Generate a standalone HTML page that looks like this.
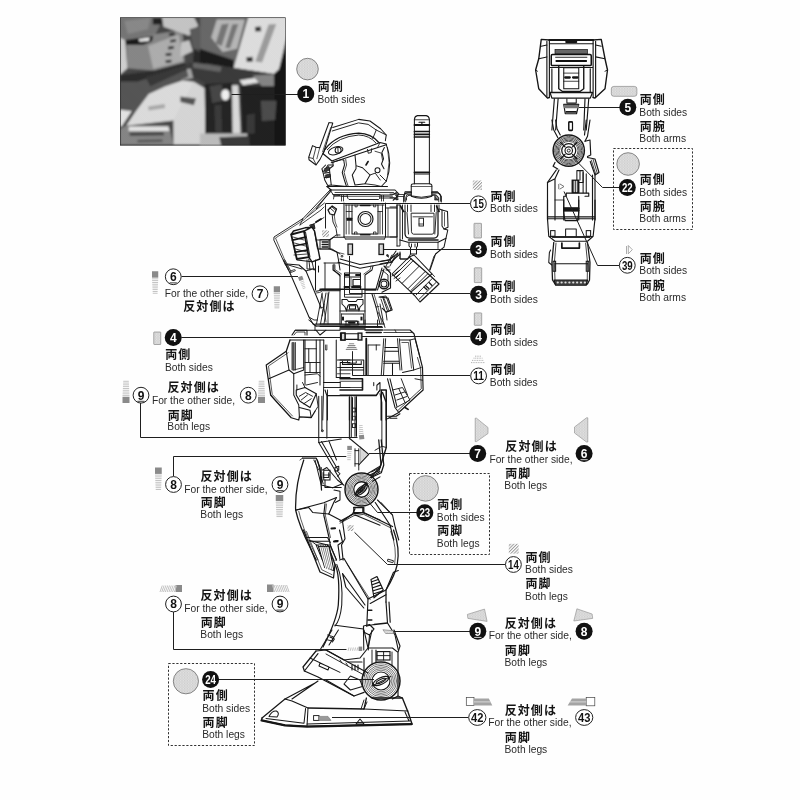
<!DOCTYPE html>
<html><head><meta charset="utf-8"><title>Decal guide</title>
<style>
html,body{margin:0;padding:0;background:#fefefe;}
body{width:800px;height:800px;overflow:hidden;font-family:"Liberation Sans",sans-serif;}
svg{display:block;will-change:transform;font-family:"Liberation Sans",sans-serif;}
.jp{font-family:"Liberation Sans","Noto Sans CJK JP",sans-serif;font-size:12px;font-weight:700;fill:#141414;letter-spacing:1.1px;}
</style></head><body>
<svg width="800" height="800" viewBox="0 0 800 800">
<defs>
<pattern id="dots" width="1.6" height="1.6" patternUnits="userSpaceOnUse"><rect width="1.6" height="1.6" fill="#e8e8e8"/><circle cx=".5" cy=".5" r=".4" fill="#bebebe"/><circle cx="1.3" cy="1.3" r=".4" fill="#bebebe"/></pattern>
<pattern id="hatch" width="2.3" height="2.3" patternUnits="userSpaceOnUse" patternTransform="rotate(-45)"><rect width="2.3" height="2.3" fill="#fff"/><rect width="2.3" height="1" fill="#9a9a9a"/></pattern>
<filter id="pblur" x="-5%" y="-5%" width="110%" height="110%"><feGaussianBlur stdDeviation="1.1"/></filter>
<pattern id="ht" width="1.5" height="1.5" patternUnits="userSpaceOnUse" patternTransform="rotate(45)"><circle cx=".75" cy=".75" r=".42" fill="#000"/></pattern>

</defs>
<rect width="800" height="800" fill="#fefefe"/>
<clipPath id="pc"><rect x="120" y="17.4" width="165.6" height="128"/></clipPath>
<g clip-path="url(#pc)"><g filter="url(#pblur)">
<rect x="110" y="8" width="190" height="150" fill="#4a4a4a"/>
<polygon points="117.12,15.0 164.62,15.0 155.12,35.19 124.25,41.12 117.12,38.75" fill="#7a7a7a"/>
<polygon points="124.25,20.94 150.38,17.85 148.0,29.25 127.81,34.0" fill="#8e8e8e"/>
<polygon points="152.75,17.85 161.78,17.85 161.78,24.5 152.75,24.5" fill="#222"/>
<polygon points="126.15,40.17 153.22,34.48 182.44,29.96 184.81,62.5 154.41,70.58 127.34,68.2" fill="#8c8c8c"/>
<polygon points="148.0,45.88 178.88,34.48 183.15,61.31 153.22,68.68" fill="#b4b4b4"/>
<polygon points="124.01,40.17 153.22,35.66 152.04,41.36 143.01,44.92 126.15,44.92" fill="#1e1e1e"/>
<polygon points="138.5,38.99 149.9,37.33 148.71,41.12 139.69,41.84" fill="#f2f2f2"/>
<polygon points="119.97,37.8 125.2,40.17 127.34,68.2 119.97,74.85" fill="#d8d8d8"/>
<polygon points="168.9,33.29 174.6,32.58 174.84,35.19 169.14,35.9" fill="#2a2a2a"/>
<polygon points="170.09,39.94 175.79,39.23 176.03,41.84 170.32,42.55" fill="#2a2a2a"/>
<polygon points="167.95,46.83 173.65,46.11 173.89,48.73 168.19,49.44" fill="#2a2a2a"/>
<polygon points="165.57,53.48 171.28,52.76 171.51,55.38 165.81,56.09" fill="#2a2a2a"/>
<polygon points="165.57,60.36 171.28,59.65 171.51,62.26 165.81,62.98" fill="#2a2a2a"/>
<polygon points="162.25,16.9 193.84,16.9 198.11,25.45 189.32,35.66 163.44,26.64" fill="#cccccc"/>
<polygon points="181.25,42.31 189.32,40.17 192.65,51.34 180.3,57.04" fill="#cccccc"/>
<polygon points="189.56,29.25 205.0,24.5 205.0,50.62 193.12,48.25" fill="#5e5e5e"/>
<polygon points="193.84,49.2 205.0,54.66 205.0,66.06 192.65,64.88" fill="#2c2c2c"/>
<polygon points="200.25,16.9 248.94,16.9 234.69,67.25 200.25,48.25" fill="#6c6c6c"/>
<polygon points="216.88,19.51 244.9,19.51 237.06,48.73 222.57,52.05 211.18,37.56" fill="#bdbdbd"/>
<polygon points="221.62,24.5 228.75,23.55 221.62,45.88 215.69,43.5" fill="#7a7a7a"/>
<polygon points="232.31,24.5 238.25,24.02 229.94,48.25 225.19,47.77" fill="#7a7a7a"/>
<polygon points="200.01,48.73 233.74,59.89 233.74,67.96 200.01,62.26" fill="#1c1c1c"/>
<polygon points="248.46,16.9 288.12,16.9 288.12,31.62 279.1,69.15 273.88,73.9 233.74,67.72" fill="#e6e6e6"/>
<polygon points="254.88,26.88 260.81,26.4 261.29,31.15 255.35,31.62" fill="#333"/>
<polygon points="246.33,57.28 252.5,56.8 252.97,61.55 246.8,62.03" fill="#333"/>
<polygon points="268.65,24.5 276.25,24.02 262.0,62.5 255.35,61.55" fill="#a2a2a2"/>
<polygon points="279.1,69.15 288.12,31.62 288.12,148.0 273.88,148.0 273.88,73.9" fill="#151515"/>
<polygon points="188.38,62.5 233.74,67.96 273.88,73.9 273.88,86.25 216.88,88.62 188.38,75.56" fill="#3c3c3c"/>
<polygon points="178.88,70.81 190.75,68.44 193.12,77.94 181.25,80.31" fill="#aaaaaa"/>
<polygon points="193.12,62.5 221.62,66.78 220.44,72.0 193.12,67.72" fill="#6a6a6a"/>
<polygon points="239.44,80.31 259.62,77.22 262.0,81.98 243.0,85.3" fill="#ececec"/>
<polygon points="252.5,75.56 273.88,74.38 273.88,86.25 262.0,86.25" fill="#8a8a8a"/>
<polygon points="119.97,75.09 154.41,70.58 184.81,62.5 186.95,70.58 157.74,75.09 137.55,81.74 119.97,81.74" fill="#2e2e2e"/>
<polygon points="119.97,81.74 137.55,81.74 157.74,75.09 186.95,70.58 188.38,76.75 165.57,86.25 148.71,94.09 135.18,112.14 119.97,109.76" fill="#585858"/>
<polygon points="145.62,77.22 188.38,63.69 185.53,70.1 150.38,86.25" fill="#3a3a3a"/>
<polygon points="119.97,109.76 131.85,110.95 121.64,126.62 119.97,126.62" fill="#ececec"/>
<polygon points="135.18,112.14 148.71,94.09 165.57,86.25 182.44,80.55 193.84,81.74 186.95,103.11 177.93,119.98 126.15,125.68" fill="#e4e4e4"/>
<polygon points="173.41,119.98 193.84,81.74 205.0,88.39 205.0,144.68 173.41,144.68" fill="#dedede"/>
<polygon points="180.3,96.46 195.98,98.6 193.84,105.25 180.3,101.93" fill="#585858"/>
<polygon points="126.15,125.68 168.9,125.68 173.41,144.68 119.97,144.68 119.97,129.0" fill="#8a8a8a"/>
<polygon points="129.0,126.62 168.19,126.62 169.38,130.9 128.53,130.9" fill="#ececec"/>
<polygon points="129.47,132.8 163.44,132.32 164.15,135.18 129.95,135.65" fill="#444"/>
<polygon points="137.31,139.93 162.25,139.45 162.72,141.82 137.55,142.3" fill="#555"/>
<polygon points="148.0,106.44 164.62,104.06 165.1,108.1 148.71,110.48" fill="#b0b0b0"/>
<polygon points="204.53,83.88 232.55,82.69 232.55,133.51 205.48,133.51" fill="#262626"/>
<polygon points="209.75,86.25 221.62,84.35 224.48,100.5 212.12,102.88" fill="#4a4a4a"/>
<ellipse cx="225.43" cy="94.8" rx="4.2" ry="5.6" fill="#fafafa"/>
<polygon points="232.07,85.3 238.25,85.3 240.62,133.51 232.55,133.51" fill="#e2e2e2"/>
<polygon points="214.5,105.25 221.15,104.78 222.1,132.56 215.45,132.56" fill="#3c3c3c"/>
<polygon points="240.39,86.25 273.88,86.25 273.88,148.0 243.0,148.0" fill="#222"/>
<polygon points="260.81,100.74 276.49,100.74 275.06,119.98 262.0,120.93" fill="#505050"/>
<polygon points="246.56,114.75 254.88,113.56 254.88,133.75 246.56,133.75" fill="#3a3a3a"/>
<polygon points="200.01,133.51 247.28,133.51 248.22,148.0 200.01,148.0" fill="#c4c4c4"/>
<polygon points="219.25,137.31 248.94,136.12 250.12,148.0 221.62,148.0" fill="#3c3c3c"/>
</g>
<rect x="120" y="17.4" width="165.6" height="128" fill="url(#ht)" opacity="0.2"/>
</g>
<rect x="120.3" y="17.7" width="165" height="127.4" fill="none" stroke="#2a2a2a" stroke-width="0.6"/>
<path d="M329.0 122.5L332.75 123.0L324.0 151.25L320.0 159.38L316.0 165.0L309.0 159.75L308.75 157.25L312.5 145.62L316.0 147.25L319.75 147.75L329.0 122.5" fill="none" stroke="#161616" stroke-width="1.03" stroke-linejoin="round" stroke-linecap="round"/>
<path d="M330.75 127.5L322.5 151.88" fill="none" stroke="#161616" stroke-width="0.69" stroke-linejoin="round" stroke-linecap="round"/>
<path d="M316.0 147.25L313.12 158.5L309.0 157.5" fill="none" stroke="#161616" stroke-width="0.8" stroke-linejoin="round" stroke-linecap="round"/>
<path d="M313.12 158.5L316.25 164.75" fill="none" stroke="#161616" stroke-width="0.8" stroke-linejoin="round" stroke-linecap="round"/>
<path d="M319.75 147.75L316.88 158.75" fill="none" stroke="#161616" stroke-width="0.69" stroke-linejoin="round" stroke-linecap="round"/>
<path d="M332.75 127.5L358.75 119.38L370.0 121.0L380.62 128.75L386.25 135.0L385.38 140.62" fill="none" stroke="#161616" stroke-width="1.03" stroke-linejoin="round" stroke-linecap="round"/>
<path d="M332.25 131.0L358.5 122.88L368.12 124.38L376.25 130.0L386.25 135.0" fill="none" stroke="#161616" stroke-width="0.92" stroke-linejoin="round" stroke-linecap="round"/>
<path d="M376.25 130.0L372.75 138.5" fill="none" stroke="#161616" stroke-width="0.92" stroke-linejoin="round" stroke-linecap="round"/>
<path d="M 325.0 149.25 Q 336.25 134.38 358.75 133.12 Q 371.25 133.5 378.5 142.25" fill="none" stroke="#161616" stroke-width="1.26" stroke-linejoin="round" stroke-linecap="round"/>
<path d="M 327.25 149.75 Q 338.12 136.5 358.75 135.0 Q 369.38 135.38 375.75 142.75" fill="none" stroke="#161616" stroke-width="0.92" stroke-linejoin="round" stroke-linecap="round"/>
<path d="M323.12 153.75L331.88 161.0L380.0 142.5L386.25 144.0" fill="none" stroke="#161616" stroke-width="1.26" stroke-linejoin="round" stroke-linecap="round"/>
<path d="M331.25 162.75L386.25 144.75" fill="none" stroke="#161616" stroke-width="1.03" stroke-linejoin="round" stroke-linecap="round"/>
<path d="M325.0 149.25L323.12 153.75" fill="none" stroke="#161616" stroke-width="1.03" stroke-linejoin="round" stroke-linecap="round"/>
<ellipse cx="335.62" cy="150.75" rx="7.5" ry="3.75" transform="rotate(-17 335.62 150.75)" fill="none" stroke="#161616" stroke-width="1.03"/>
<circle cx="338.12" cy="150.25" r="3.0" fill="none" stroke="#161616" stroke-width="1.03"/>
<path d="M337.88 148.12L338.12 152.5" fill="none" stroke="#161616" stroke-width="0.92" stroke-linejoin="round" stroke-linecap="round"/>
<path d="M 386.25 144.38 Q 393.12 162.5 386.25 181.25 L 381.25 186.5" fill="none" stroke="#161616" stroke-width="1.03" stroke-linejoin="round" stroke-linecap="round"/>
<path d="M384.38 147.5L381.88 152.5L383.5 158.75L381.5 164.0L384.0 168.75" fill="none" stroke="#161616" stroke-width="1.03" stroke-linejoin="round" stroke-linecap="round"/>
<circle cx="377.5" cy="170.25" r="2.5" fill="none" stroke="#161616" stroke-width="1.03"/>
<path d="M380.0 175.0L386.25 181.25" fill="none" stroke="#161616" stroke-width="0.92" stroke-linejoin="round" stroke-linecap="round"/>
<path d="M332.75 162.25L333.25 165.75L329.38 168.75L331.25 185.0L346.5 186.5" fill="none" stroke="#161616" stroke-width="1.03" stroke-linejoin="round" stroke-linecap="round"/>
<path d="M329.38 168.75L322.75 171.5L324.75 180.0L327.75 185.5L331.25 185.0" fill="none" stroke="#161616" stroke-width="1.03" stroke-linejoin="round" stroke-linecap="round"/>
<path d="M323.75 173.12L329.38 172.5M324.5 177.5L330.0 176.88M325.62 168.75L328.12 165.0L332.75 165.0" fill="none" stroke="#161616" stroke-width="1.03" stroke-linejoin="round" stroke-linecap="round"/>
<path d="M343.75 160.0L344.5 165.0L342.25 172.5L344.38 180.0L346.5 186.5" fill="none" stroke="#161616" stroke-width="1.03" stroke-linejoin="round" stroke-linecap="round"/>
<path d="M345.75 159.5L346.5 165.0L344.12 172.5L346.12 180.0L348.25 186.5" fill="none" stroke="#161616" stroke-width="0.8" stroke-linejoin="round" stroke-linecap="round"/>
<path d="M355.0 155.0L356.0 165.62L362.5 167.75L370.0 175.0L365.0 183.75L355.0 185.0L352.25 175.0L356.0 168.75L356.0 165.62" fill="none" stroke="#161616" stroke-width="1.03" stroke-linejoin="round" stroke-linecap="round"/>
<path d="M370.0 175.0L375.25 173.12L380.25 180.0" fill="none" stroke="#161616" stroke-width="0.92" stroke-linejoin="round" stroke-linecap="round"/>
<path d="M365.0 183.75L375.0 185.0L381.25 186.5" fill="none" stroke="#161616" stroke-width="0.92" stroke-linejoin="round" stroke-linecap="round"/>
<path d="M366.0 165.0L368.12 161.5" fill="none" stroke="#161616" stroke-width="1.61" stroke-linejoin="round" stroke-linecap="round"/>
<path d="M367.5 149.38L368.25 153.25L371.25 152.5L371.62 148.75" fill="none" stroke="#161616" stroke-width="0.92" stroke-linejoin="round" stroke-linecap="round"/>
<path d="M326.88 186.5L387.5 186.5" fill="none" stroke="#161616" stroke-width="1.03" stroke-linejoin="round" stroke-linecap="round"/>
<path d="M326.88 186.5L331.25 190.0L395.0 190.0L399.0 194.0L396.25 197.5L393.12 200.25" fill="none" stroke="#161616" stroke-width="1.03" stroke-linejoin="round" stroke-linecap="round"/>
<path d="M331.25 190.0L316.25 208.75" fill="none" stroke="#161616" stroke-width="1.03" stroke-linejoin="round" stroke-linecap="round"/>
<path d="M335.0 192.5L393.75 192.5L396.25 196.25" fill="none" stroke="#161616" stroke-width="0.8" stroke-linejoin="round" stroke-linecap="round"/>
<path d="M341.25 196.25L392.5 196.25" fill="none" stroke="#161616" stroke-width="0.8" stroke-linejoin="round" stroke-linecap="round"/>
<path d="M324.5 168.75L329.0 166.5L329.75 169.75L325.38 172.0Z" fill="#3a3a3a" stroke="#161616" stroke-width="0.8" stroke-linejoin="round" stroke-linecap="round"/>
<path d="M325.62 175.0L330.0 174.0L330.5 176.5L326.25 178.0Z" fill="#3a3a3a" stroke="#161616" stroke-width="0.8" stroke-linejoin="round" stroke-linecap="round"/>
<path d="M332.75 162.25L341.25 159.75L343.75 160.0" fill="none" stroke="#161616" stroke-width="0.92" stroke-linejoin="round" stroke-linecap="round"/>
<path d="M325.62 165.0L321.88 168.75L322.75 171.5" fill="none" stroke="#161616" stroke-width="1.03" stroke-linejoin="round" stroke-linecap="round"/>
<path d="M377.5 147.5L380.0 142.75M375.0 151.25L381.25 153.12L382.5 160.0" fill="none" stroke="#161616" stroke-width="0.8" stroke-linejoin="round" stroke-linecap="round"/>
<path d="M387.5 147.5L389.0 162.5L387.5 175.0" fill="none" stroke="#161616" stroke-width="0.69" stroke-linejoin="round" stroke-linecap="round"/>
<path d="M 414.38 183.75 L 414.38 119.38 Q 414.75 116.0 417.5 115.62 L 426.25 115.62 Q 429.0 116.0 429.38 119.38 L 429.38 183.75" fill="none" stroke="#161616" stroke-width="1.03" stroke-linejoin="round" stroke-linecap="round"/>
<path d="M414.38 119.75L429.38 119.75" fill="none" stroke="#161616" stroke-width="0.8" stroke-linejoin="round" stroke-linecap="round"/>
<path d="M414.5 125.0L429.25 125.0" fill="none" stroke="#161616" stroke-width="1.84" stroke-linejoin="round" stroke-linecap="round"/>
<path d="M419.0 122.25L424.75 122.25M421.88 122.25L421.88 124.5" fill="none" stroke="#161616" stroke-width="1.15" stroke-linejoin="round" stroke-linecap="round"/>
<path d="M414.5 131.5L429.25 131.5" fill="none" stroke="#161616" stroke-width="1.72" stroke-linejoin="round" stroke-linecap="round"/>
<path d="M414.5 134.38L429.25 134.38" fill="none" stroke="#161616" stroke-width="1.72" stroke-linejoin="round" stroke-linecap="round"/>
<path d="M414.5 137.0L429.25 137.0" fill="none" stroke="#161616" stroke-width="1.72" stroke-linejoin="round" stroke-linecap="round"/>
<path d="M414.5 172.5L429.25 172.5" fill="none" stroke="#161616" stroke-width="1.84" stroke-linejoin="round" stroke-linecap="round"/>
<path d="M414.5 174.25L429.25 174.25" fill="none" stroke="#161616" stroke-width="0.69" stroke-linejoin="round" stroke-linecap="round"/>
<path d="M 411.25 185.25 Q 411.25 183.75 414.38 183.75 L 429.38 183.75 Q 431.88 184.0 431.88 185.62 L 431.88 196.25 Q 421.25 200.25 411.25 196.25 Z" fill="none" stroke="#161616" stroke-width="1.03" stroke-linejoin="round" stroke-linecap="round"/>
<path d="M411.25 186.5L431.88 186.5" fill="none" stroke="#161616" stroke-width="0.69" stroke-linejoin="round" stroke-linecap="round"/>
<path d="M411.25 191.88L405.0 191.88L403.75 197.5L403.75 201.88M431.88 191.88L437.5 191.88L441.25 196.25L441.25 201.88" fill="none" stroke="#161616" stroke-width="1.03" stroke-linejoin="round" stroke-linecap="round"/>
<path d="M411.25 194.38L406.88 194.38L405.62 198.12L405.62 201.88M431.88 194.38L435.62 194.38L438.75 197.5L438.75 201.88" fill="none" stroke="#161616" stroke-width="0.8" stroke-linejoin="round" stroke-linecap="round"/>
<path d="M435.0 196.25L438.12 200.0L435.0 200.0Z" fill="#444" stroke="#161616" stroke-width="0.69" stroke-linejoin="round" stroke-linecap="round"/>
<path d="M330.0 190.0L303.0 218.5L274.0 237.0L273.8 240.0L285.0 264.0L288.5 270.0" fill="none" stroke="#161616" stroke-width="0.92" stroke-linejoin="round" stroke-linecap="round"/>
<path d="M331.2 191.2L304.2 219.7L275.5 238.0L286.2 263.5L289.5 270.0" fill="none" stroke="#161616" stroke-width="0.69" stroke-linejoin="round" stroke-linecap="round"/>
<path d="M307.0 217.0L324.5 203.0" fill="none" stroke="#161616" stroke-width="0.8" stroke-linejoin="round" stroke-linecap="round"/>
<path d="M300.0 225.0L321.0 210.0L324.0 207.0" fill="none" stroke="#161616" stroke-width="0.8" stroke-linejoin="round" stroke-linecap="round"/>
<path d="M303.0 218.5L300.0 225.0" fill="none" stroke="#161616" stroke-width="0.8" stroke-linejoin="round" stroke-linecap="round"/>
<path d="M312.0 225.0L324.0 217.5" fill="none" stroke="#161616" stroke-width="0.8" stroke-linejoin="round" stroke-linecap="round"/>
<path d="M316.0 222.0L321.0 219.0" fill="none" stroke="#161616" stroke-width="1.84" stroke-linejoin="round" stroke-linecap="round"/>
<path d="M310.0 225.0L314.0 224.0L315.0 228.5L312.0 228.0Z" fill="#333" stroke="#161616" stroke-width="0.92" stroke-linejoin="round" stroke-linecap="round"/>
<path d="M291.2 234.5L304.0 231.2L308.8 257.2L296.8 259.0Z" fill="none" stroke="#161616" stroke-width="1.84" stroke-linejoin="round" stroke-linecap="round"/>
<path d="M291.2 234.5L293.5 231.0L305.0 227.8L312.0 227.2L304.0 231.2" fill="none" stroke="#161616" stroke-width="1.38" stroke-linejoin="round" stroke-linecap="round"/>
<path d="M312.0 227.2L314.5 231.0L320.0 259.0L312.0 261.8L308.8 257.2" fill="none" stroke="#161616" stroke-width="1.38" stroke-linejoin="round" stroke-linecap="round"/>
<path d="M312.0 261.8L297.0 260.0L296.8 259.0" fill="none" stroke="#161616" stroke-width="1.15" stroke-linejoin="round" stroke-linecap="round"/>
<path d="M292.5 240.2L305.5 237.2M293.8 246.0L306.5 243.5M295.2 252.2L307.7 250.0" fill="none" stroke="#161616" stroke-width="1.72" stroke-linejoin="round" stroke-linecap="round"/>
<path d="M293.0 237.0L304.0 240.0M294.5 243.0L305.5 246.0M295.5 249.0L307.0 252.0M294.0 255.0L307.0 254.0" fill="none" stroke="#161616" stroke-width="0.8" stroke-linejoin="round" stroke-linecap="round"/>
<path d="M305.5 232.0L310.0 257.0" fill="none" stroke="#161616" stroke-width="0.92" stroke-linejoin="round" stroke-linecap="round"/>
<path d="M314.5 231.0L316.0 240.0L330.0 240.0L336.0 235.0L340.0 235.0" fill="none" stroke="#161616" stroke-width="0.92" stroke-linejoin="round" stroke-linecap="round"/>
<path d="M316.0 240.0L317.5 249.0L332.0 249.0L340.0 254.0" fill="none" stroke="#161616" stroke-width="0.92" stroke-linejoin="round" stroke-linecap="round"/>
<path d="M320.0 240.5L320.0 248.8M329.0 240.5L329.0 248.8" fill="none" stroke="#161616" stroke-width="0.92" stroke-linejoin="round" stroke-linecap="round"/>
<path d="M322.2 242.0L328.0 242.0M322.2 244.5L328.0 244.5M322.2 247.0L328.0 247.0" fill="none" stroke="#161616" stroke-width="1.38" stroke-linejoin="round" stroke-linecap="round"/>
<path d="M328.0 210.0L332.2 206.0L336.5 209.0L334.2 215.0L330.0 214.0Z" fill="none" stroke="#161616" stroke-width="1.26" stroke-linejoin="round" stroke-linecap="round"/>
<path d="M330.0 208.0L334.0 211.5M331.5 206.5L335.5 210.0" fill="none" stroke="#161616" stroke-width="0.92" stroke-linejoin="round" stroke-linecap="round"/>
<path d="M332.2 215.0L333.0 222.0L336.0 228.5L337.2 236.0" fill="none" stroke="#161616" stroke-width="0.92" stroke-linejoin="round" stroke-linecap="round"/>
<path d="M334.2 215.0L335.2 222.0L337.0 227.0" fill="none" stroke="#161616" stroke-width="0.69" stroke-linejoin="round" stroke-linecap="round"/>
<path d="M330.0 190.0L334.0 195.8L340.0 195.5" fill="none" stroke="#161616" stroke-width="0.92" stroke-linejoin="round" stroke-linecap="round"/>
<path d="M334.0 195.8L333.5 199.0" fill="none" stroke="#161616" stroke-width="0.8" stroke-linejoin="round" stroke-linecap="round"/>
<path d="M285.0 264.0L302.0 269.0M312.0 261.8L314.0 270.0M308.8 259.0L310.0 270.0" fill="none" stroke="#161616" stroke-width="0.92" stroke-linejoin="round" stroke-linecap="round"/>
<rect x="322" y="230.3" width="7" height="6.8" fill="url(#hatch)"/>
<path d="M 333.0 194.5 L 347.0 194.5 Q 347.5 199.5 349.0 199.5 L 378.5 199.5 Q 380.0 199.5 380.0 195.0 L 392.0 195.0 L 396.0 192.8 L 397.0 200.0 L 393.5 198.0 L 380.0 198.0" fill="none" stroke="#161616" stroke-width="0.92" stroke-linejoin="round" stroke-linecap="round"/>
<path d="M347.0 194.5L380.0 194.5" fill="none" stroke="#161616" stroke-width="1.03" stroke-linejoin="round" stroke-linecap="round"/>
<path d="M334.0 196.2L346.8 196.2" fill="none" stroke="#161616" stroke-width="0.69" stroke-linejoin="round" stroke-linecap="round"/>
<path d="M341.5 195.5L341.5 201.0M343.5 195.5L343.5 201.0M381.5 195.5L381.5 201.0M383.5 195.5L383.5 201.0" fill="none" stroke="#161616" stroke-width="0.8" stroke-linejoin="round" stroke-linecap="round"/>
<path d="M344.0 203.0L344.0 237.0L385.5 237.0L385.5 203.0" fill="none" stroke="#161616" stroke-width="1.03" stroke-linejoin="round" stroke-linecap="round"/>
<path d="M345.5 239.0L384.5 239.0" fill="none" stroke="#161616" stroke-width="1.03" stroke-linejoin="round" stroke-linecap="round"/>
<path d="M344.0 237.0L345.5 239.0M385.5 237.0L384.5 239.0" fill="none" stroke="#161616" stroke-width="0.8" stroke-linejoin="round" stroke-linecap="round"/>
<path d="M352.0 205.0L378.0 205.0L378.0 234.0L352.0 234.0Z" fill="none" stroke="#161616" stroke-width="1.03" stroke-linejoin="round" stroke-linecap="round"/>
<path d="M355.0 205.0L355.0 206.8L357.2 206.8L357.2 205.0M373.5 205.0L373.5 206.8L375.7 206.8L375.7 205.0M354.5 234.0L354.5 232.0L357.0 232.0L357.0 234.0M373.5 234.0L373.5 232.0L376.0 232.0L376.0 234.0" fill="none" stroke="#161616" stroke-width="0.8" stroke-linejoin="round" stroke-linecap="round"/>
<path d="M360.5 205.5L370.0 205.5M360.5 234.8L370.0 234.8" fill="none" stroke="#161616" stroke-width="1.38" stroke-linejoin="round" stroke-linecap="round"/>
<circle cx="365.5" cy="219.0" r="7.5" fill="none" stroke="#161616" stroke-width="1.15"/>
<circle cx="365.5" cy="219.0" r="5.5" fill="none" stroke="#161616" stroke-width="1.03"/>
<path d="M346.2 205.0L346.2 234.0M349.0 205.0L349.0 234.0M346.2 211.5L352.0 211.5M380.0 211.5L380.0 234.0M382.5 205.0L382.5 234.0M378.0 211.5L382.5 211.5" fill="none" stroke="#161616" stroke-width="0.8" stroke-linejoin="round" stroke-linecap="round"/>
<path d="M347.0 218.5L351.8 218.5M347.0 220.0L351.8 220.0" fill="none" stroke="#161616" stroke-width="1.49" stroke-linejoin="round" stroke-linecap="round"/>
<path d="M345.5 205.0L352.0 205.0M378.0 205.0L384.0 205.0" fill="none" stroke="#161616" stroke-width="0.92" stroke-linejoin="round" stroke-linecap="round"/>
<path d="M386.0 208.0L397.0 208.0L397.0 237.0L386.0 237.0" fill="none" stroke="#161616" stroke-width="0.92" stroke-linejoin="round" stroke-linecap="round"/>
<path d="M397.0 205.0L400.0 205.0M397.0 208.0L397.0 205.0" fill="none" stroke="#161616" stroke-width="0.92" stroke-linejoin="round" stroke-linecap="round"/>
<path d="M388.0 208.0L388.0 237.0" fill="none" stroke="#161616" stroke-width="0.69" stroke-linejoin="round" stroke-linecap="round"/>
<rect x="348.0" y="244.0" width="4.5" height="10.5" fill="url(#dots)" stroke="#161616" stroke-width="1.26"/>
<rect x="379.0" y="244.0" width="4.5" height="10.5" fill="url(#dots)" stroke="#161616" stroke-width="1.26"/>
<path d="M340.0 259.0L360.0 264.5L390.0 260.0L396.0 251.0" fill="none" stroke="#161616" stroke-width="1.03" stroke-linejoin="round" stroke-linecap="round"/>
<path d="M338.0 262.2L360.0 268.2L392.0 262.2L398.0 254.0" fill="none" stroke="#161616" stroke-width="1.03" stroke-linejoin="round" stroke-linecap="round"/>
<path d="M390.0 260.0L392.0 262.2" fill="none" stroke="#161616" stroke-width="0.8" stroke-linejoin="round" stroke-linecap="round"/>
<circle cx="342.0" cy="256.2" r="0.9" fill="none" stroke="#161616" stroke-width="0.92"/>
<circle cx="387.5" cy="255.5" r="0.9" fill="none" stroke="#161616" stroke-width="0.92"/>
<path d="M330.0 239.5L333.5 237.2L344.0 237.2" fill="none" stroke="#161616" stroke-width="1.03" stroke-linejoin="round" stroke-linecap="round"/>
<path d="M330.0 239.5L330.0 249.0L337.0 252.2L338.5 260.0L340.0 270.0" fill="none" stroke="#161616" stroke-width="1.03" stroke-linejoin="round" stroke-linecap="round"/>
<path d="M320.0 239.5L330.0 239.5M320.0 249.0L330.0 249.0" fill="none" stroke="#161616" stroke-width="0.8" stroke-linejoin="round" stroke-linecap="round"/>
<path d="M337.0 252.2L344.0 254.0" fill="none" stroke="#161616" stroke-width="0.69" stroke-linejoin="round" stroke-linecap="round"/>
<path d="M 404.0 201.0 L 404.0 196.0 Q 404.5 192.8 408.0 192.8 L 411.5 192.8 M 431.5 192.8 L 437.0 192.8 Q 440.5 193.0 440.8 197.0 L 440.8 201.0" fill="none" stroke="#161616" stroke-width="1.15" stroke-linejoin="round" stroke-linecap="round"/>
<path d="M 406.5 200.0 L 406.5 197.5 Q 407.0 195.2 410.0 195.2 L 412.5 196.0 Q 421.5 198.5 430.0 196.0 L 434.0 195.2 Q 437.8 195.5 438.2 198.0 L 438.2 200.0" fill="none" stroke="#161616" stroke-width="0.92" stroke-linejoin="round" stroke-linecap="round"/>
<path d="M390.0 194.2L394.0 194.2L397.0 192.5L398.0 200.0L395.0 197.8L390.0 197.8" fill="none" stroke="#161616" stroke-width="0.92" stroke-linejoin="round" stroke-linecap="round"/>
<path d="M398.0 194.5L404.0 194.5M398.0 196.5L404.0 196.5" fill="none" stroke="#161616" stroke-width="0.8" stroke-linejoin="round" stroke-linecap="round"/>
<path d="M400.0 205.0L400.0 240.0M402.5 205.0L402.5 239.0M405.0 205.0L405.0 211.5M407.5 205.0L407.5 211.5M411.0 205.0L411.0 211.5M431.0 205.0L431.0 211.5M434.5 205.0L434.5 211.5M437.0 205.0L437.0 211.5M439.0 205.0L439.0 211.5" fill="none" stroke="#161616" stroke-width="0.92" stroke-linejoin="round" stroke-linecap="round"/>
<path d="M400.5 206.0L403.5 211.5M436.5 206.0L439.0 211.5" fill="none" stroke="#161616" stroke-width="1.61" stroke-linejoin="round" stroke-linecap="round"/>
<path d="M397.0 205.0L397.0 246.0M390.0 207.0L397.0 207.0M390.0 237.0L397.0 237.0" fill="none" stroke="#161616" stroke-width="0.92" stroke-linejoin="round" stroke-linecap="round"/>
<path d="M 400.0 240.0 L 408.0 242.2 L 438.0 242.2 L 446.0 238.2 L 447.8 230.0 L 444.0 229.0 L 442.0 226.0 L 442.0 210.0 L 439.5 209.0" fill="none" stroke="#161616" stroke-width="1.03" stroke-linejoin="round" stroke-linecap="round"/>
<path d="M442.0 210.0L447.5 211.5L448.0 227.2L444.0 229.0" fill="none" stroke="#161616" stroke-width="1.03" stroke-linejoin="round" stroke-linecap="round"/>
<path d="M444.5 212.5L444.5 226.0" fill="none" stroke="#161616" stroke-width="0.69" stroke-linejoin="round" stroke-linecap="round"/>
<path d="M 405.0 211.5 L 405.0 234.0 Q 405.5 238.0 409.5 238.2 L 434.0 238.2 Q 437.8 237.8 438.0 234.0 L 438.0 211.5" fill="none" stroke="#161616" stroke-width="1.26" stroke-linejoin="round" stroke-linecap="round"/>
<path d="M 411.5 213.2 L 434.0 213.2 L 434.0 232.0 Q 433.8 234.2 432.0 234.2 L 413.5 234.2 Q 411.7 234.0 411.5 232.0 Z" fill="none" stroke="#161616" stroke-width="0.92" stroke-linejoin="round" stroke-linecap="round"/>
<path d="M407.0 212.5L408.5 234.0M436.2 212.5L434.8 234.0" fill="none" stroke="#161616" stroke-width="0.92" stroke-linejoin="round" stroke-linecap="round"/>
<path d="M413.0 216.8L432.5 216.8" fill="none" stroke="#161616" stroke-width="0.8" stroke-linejoin="round" stroke-linecap="round"/>
<rect x="419.0" y="218.2" width="4.5" height="7.8" fill="none" stroke="#161616" stroke-width="0.92"/>
<path d="M419.0 224.0L423.5 224.0" fill="none" stroke="#161616" stroke-width="0.8" stroke-linejoin="round" stroke-linecap="round"/>
<path d="M408.5 240.0L438.0 240.0" fill="none" stroke="#161616" stroke-width="1.49" stroke-linejoin="round" stroke-linecap="round"/>
<path d="M409.0 243.0L409.0 246.0L410.5 247.5L410.5 254.0L416.5 254.0L416.5 247.5L417.5 246.0L417.5 243.0" fill="none" stroke="#161616" stroke-width="1.03" stroke-linejoin="round" stroke-linecap="round"/>
<path d="M411.5 244.0L411.5 247.0M415.0 244.0L415.0 247.0" fill="none" stroke="#161616" stroke-width="0.92" stroke-linejoin="round" stroke-linecap="round"/>
<path d="M446.0 238.2L444.0 247.2L435.5 254.0L430.0 270.0" fill="none" stroke="#161616" stroke-width="1.03" stroke-linejoin="round" stroke-linecap="round"/>
<path d="M438.0 242.2L438.0 248.5M440.0 250.0L434.0 256.0L429.5 270.0" fill="none" stroke="#161616" stroke-width="0.8" stroke-linejoin="round" stroke-linecap="round"/>
<path d="M400.0 240.0L400.0 246.0L397.0 246.0" fill="none" stroke="#161616" stroke-width="0.92" stroke-linejoin="round" stroke-linecap="round"/>
<path d="M400.0 252.0L400.0 259.0L408.0 259.0L410.5 254.0" fill="none" stroke="#161616" stroke-width="0.92" stroke-linejoin="round" stroke-linecap="round"/>
<path d="M283.5 260.0L290.0 273.0L309.0 317.0L313.0 324.0L316.0 326.2" fill="none" stroke="#161616" stroke-width="1.03" stroke-linejoin="round" stroke-linecap="round"/>
<path d="M285.0 260.0L291.2 271.8" fill="none" stroke="#161616" stroke-width="0.69" stroke-linejoin="round" stroke-linecap="round"/>
<path d="M287.0 264.0L299.0 265.0L306.0 271.0L320.0 305.0L321.2 308.0" fill="none" stroke="#161616" stroke-width="1.03" stroke-linejoin="round" stroke-linecap="round"/>
<path d="M306.0 271.0L312.5 269.0L315.5 270.0" fill="none" stroke="#161616" stroke-width="0.92" stroke-linejoin="round" stroke-linecap="round"/>
<path d="M309.0 317.0L314.0 320.0L317.5 320.0" fill="none" stroke="#161616" stroke-width="0.92" stroke-linejoin="round" stroke-linecap="round"/>
<path d="M 290.0 272.5 Q 289.5 271.2 291.0 270.8 L 294.5 269.6 Q 295.6 269.6 295.2 270.8 L 291.8 272.2 Q 290.5 273.0 290.0 272.5" fill="none" stroke="#161616" stroke-width="0.8" stroke-linejoin="round" stroke-linecap="round"/>
<g transform="rotate(-22 302.5 282.0)">
<rect x="300.0" y="276.0" width="4.5" height="4.0" fill="#8a8a8a" stroke="#161616" stroke-width="0.0"/>
<rect x="300.2" y="281.2" width="4.1" height="0.8" fill="#c4c4c4" stroke="#161616" stroke-width="0.0"/>
<rect x="300.2" y="282.9" width="3.8" height="0.8" fill="#c4c4c4" stroke="#161616" stroke-width="0.0"/>
<rect x="300.2" y="284.6" width="3.5" height="0.8" fill="#c4c4c4" stroke="#161616" stroke-width="0.0"/>
<rect x="300.2" y="286.3" width="3.2" height="0.8" fill="#c4c4c4" stroke="#161616" stroke-width="0.0"/>
<rect x="300.2" y="288.0" width="2.9" height="0.8" fill="#c4c4c4" stroke="#161616" stroke-width="0.0"/>
</g>
<path d="M315.5 260.0L315.5 290.0M318.5 266.0L318.5 272.0" fill="none" stroke="#161616" stroke-width="1.03" stroke-linejoin="round" stroke-linecap="round"/>
<path d="M325.0 263.0L325.0 289.0M307.0 260.0L307.0 269.0L315.0 269.0" fill="none" stroke="#161616" stroke-width="0.92" stroke-linejoin="round" stroke-linecap="round"/>
<path d="M334.0 264.0L334.0 270.0L340.0 276.0" fill="none" stroke="#161616" stroke-width="1.03" stroke-linejoin="round" stroke-linecap="round"/>
<path d="M324.0 263.0L340.0 263.0" fill="none" stroke="#161616" stroke-width="0.92" stroke-linejoin="round" stroke-linecap="round"/>
<path d="M 316.0 291.2 Q 319.0 291.2 322.0 289.2 L 340.0 289.2" fill="none" stroke="#161616" stroke-width="1.03" stroke-linejoin="round" stroke-linecap="round"/>
<path d="M 316.5 293.0 Q 320.0 293.0 322.5 290.8 L 340.0 290.8" fill="none" stroke="#161616" stroke-width="0.8" stroke-linejoin="round" stroke-linecap="round"/>
<path d="M322.2 293.0L316.5 324.0M329.0 292.0L324.0 324.0M324.2 304.0L322.2 316.0M326.0 293.0L320.5 324.0" fill="none" stroke="#161616" stroke-width="0.92" stroke-linejoin="round" stroke-linecap="round"/>
<path d="M315.0 324.0L340.0 324.0M316.0 326.2L340.0 326.2" fill="none" stroke="#161616" stroke-width="0.92" stroke-linejoin="round" stroke-linecap="round"/>
<path d="M292.0 335.0L295.2 330.2L316.0 330.2L340.0 330.2" fill="none" stroke="#161616" stroke-width="1.15" stroke-linejoin="round" stroke-linecap="round"/>
<path d="M295.2 330.2L307.0 330.2L307.0 335.0M316.0 330.2L320.0 335.0L326.0 330.2" fill="none" stroke="#161616" stroke-width="1.03" stroke-linejoin="round" stroke-linecap="round"/>
<path d="M294.0 335.0L296.5 332.0L305.0 332.0L305.0 335.0" fill="none" stroke="#161616" stroke-width="0.8" stroke-linejoin="round" stroke-linecap="round"/>
<path d="M333.0 265.0L333.0 270.0L340.0 275.0L340.0 289.0" fill="none" stroke="#161616" stroke-width="1.03" stroke-linejoin="round" stroke-linecap="round"/>
<path d="M373.0 266.0L372.0 270.0L365.0 275.0L365.0 289.0" fill="none" stroke="#161616" stroke-width="1.03" stroke-linejoin="round" stroke-linecap="round"/>
<path d="M335.0 265.0L335.0 269.5L341.5 274.0M371.0 266.0L370.2 269.5L363.8 274.0" fill="none" stroke="#161616" stroke-width="0.69" stroke-linejoin="round" stroke-linecap="round"/>
<path d="M376.0 289.0L382.0 268.0M377.5 290.0L384.0 269.0" fill="none" stroke="#161616" stroke-width="1.03" stroke-linejoin="round" stroke-linecap="round"/>
<path d="M344.5 273.0L360.5 273.0L360.5 277.0L344.5 277.0Z" fill="none" stroke="#161616" stroke-width="1.03" stroke-linejoin="round" stroke-linecap="round"/>
<path d="M345.0 275.0L349.0 275.0M356.0 275.0L360.0 275.0" fill="none" stroke="#161616" stroke-width="1.84" stroke-linejoin="round" stroke-linecap="round"/>
<path d="M344.5 277.0L344.5 289.0M360.5 277.0L360.5 289.0" fill="none" stroke="#161616" stroke-width="0.92" stroke-linejoin="round" stroke-linecap="round"/>
<path d="M360.0 279.5L353.0 279.5L353.0 285.8L360.0 285.8" fill="none" stroke="#161616" stroke-width="1.15" stroke-linejoin="round" stroke-linecap="round"/>
<path d="M351.0 278.0L351.0 287.0" fill="none" stroke="#161616" stroke-width="0.69" stroke-linejoin="round" stroke-linecap="round"/>
<path d="M344.5 287.0L349.0 287.0M352.0 287.0L360.5 287.0" fill="none" stroke="#161616" stroke-width="1.84" stroke-linejoin="round" stroke-linecap="round"/>
<path d="M320.0 289.2L376.0 289.2" fill="none" stroke="#161616" stroke-width="1.49" stroke-linejoin="round" stroke-linecap="round"/>
<path d="M320.0 290.5L340.0 290.5M365.0 290.5L376.0 290.5" fill="none" stroke="#161616" stroke-width="0.69" stroke-linejoin="round" stroke-linecap="round"/>
<path d="M344.5 290.0L344.5 297.2L362.0 297.2L362.0 290.0" fill="none" stroke="#161616" stroke-width="0.92" stroke-linejoin="round" stroke-linecap="round"/>
<path d="M344.5 294.5L362.0 294.5" fill="none" stroke="#161616" stroke-width="0.69" stroke-linejoin="round" stroke-linecap="round"/>
<path d="M340.0 290.0L340.0 324.0M365.0 290.0L365.0 324.0" fill="none" stroke="#161616" stroke-width="1.03" stroke-linejoin="round" stroke-linecap="round"/>
<path d="M342.0 299.5L347.0 299.5L348.5 301.5L356.0 301.5L357.5 299.5L363.0 299.5L363.0 304.0L360.0 307.0L359.0 311.0L346.5 311.0L345.0 307.0L342.0 304.0Z" fill="none" stroke="#161616" stroke-width="1.03" stroke-linejoin="round" stroke-linecap="round"/>
<path d="M 346.5 310.0 L 348.0 305.5 Q 348.5 304.5 350.0 304.5 L 355.5 304.5 Q 356.8 304.5 357.2 305.5 L 358.8 310.0 Z" fill="none" stroke="#161616" stroke-width="1.15" stroke-linejoin="round" stroke-linecap="round"/>
<rect x="349.5" y="305.7" width="6.0" height="3.3" fill="none" stroke="#161616" stroke-width="1.03"/>
<path d="M340.0 311.0L346.5 311.0M359.0 311.0L365.0 311.0" fill="none" stroke="#161616" stroke-width="0.92" stroke-linejoin="round" stroke-linecap="round"/>
<path d="M341.5 314.0L363.5 314.0" fill="none" stroke="#161616" stroke-width="0.92" stroke-linejoin="round" stroke-linecap="round"/>
<path d="M 342.5 317.0 L 342.5 320.0 M 343.5 317.0 L 343.5 320.0 M 361.0 317.0 L 361.0 320.0 M 362.0 317.0 L 362.0 320.0" fill="none" stroke="#161616" stroke-width="1.03" stroke-linejoin="round" stroke-linecap="round"/>
<path d="M346.0 324.0L346.0 321.0L357.5 321.0L357.5 324.0" fill="none" stroke="#161616" stroke-width="0.92" stroke-linejoin="round" stroke-linecap="round"/>
<path d="M349.0 322.8L354.5 322.8" fill="none" stroke="#161616" stroke-width="2.07" stroke-linejoin="round" stroke-linecap="round"/>
<path d="M341.5 314.0L341.5 324.0M363.5 314.0L363.5 324.0" fill="none" stroke="#161616" stroke-width="0.8" stroke-linejoin="round" stroke-linecap="round"/>
<path d="M320.0 324.0L384.0 324.0M320.0 326.5L382.0 326.5" fill="none" stroke="#161616" stroke-width="1.03" stroke-linejoin="round" stroke-linecap="round"/>
<path d="M340.0 329.0L365.0 329.0" fill="none" stroke="#161616" stroke-width="1.61" stroke-linejoin="round" stroke-linecap="round"/>
<circle cx="384.0" cy="284.0" r="4.8" fill="none" stroke="#161616" stroke-width="1.38"/>
<circle cx="384.0" cy="284.0" r="3.0" fill="none" stroke="#161616" stroke-width="1.03"/>
<path d="M384.0 266.0L390.5 273.0L390.5 288.0L382.0 292.2" fill="none" stroke="#161616" stroke-width="1.15" stroke-linejoin="round" stroke-linecap="round"/>
<path d="M382.0 270.0L388.0 275.0L388.0 280.0" fill="none" stroke="#161616" stroke-width="0.92" stroke-linejoin="round" stroke-linecap="round"/>
<path d="M385.0 267.0L389.0 267.0M386.0 270.0L390.0 270.0" fill="none" stroke="#161616" stroke-width="0.92" stroke-linejoin="round" stroke-linecap="round"/>
<path d="M379.0 297.0L388.0 298.0L392.2 310.0L386.0 312.2L382.2 308.2" fill="none" stroke="#161616" stroke-width="1.03" stroke-linejoin="round" stroke-linecap="round"/>
<path d="M372.0 294.0L376.0 307.0L380.0 324.0" fill="none" stroke="#161616" stroke-width="1.03" stroke-linejoin="round" stroke-linecap="round"/>
<path d="M374.0 294.0L378.0 307.0L382.0 324.0" fill="none" stroke="#161616" stroke-width="0.69" stroke-linejoin="round" stroke-linecap="round"/>
<path d="M381.0 299.0L385.0 311.0M384.0 298.5L389.0 310.5" fill="none" stroke="#161616" stroke-width="0.8" stroke-linejoin="round" stroke-linecap="round"/>
<path d="M376.0 307.0L379.0 306.5M378.0 312.0L384.0 324.0" fill="none" stroke="#161616" stroke-width="0.8" stroke-linejoin="round" stroke-linecap="round"/>
<path d="M322.0 294.0L326.0 322.0M328.0 293.0L328.0 324.0M320.0 308.0L324.0 307.0" fill="none" stroke="#161616" stroke-width="0.8" stroke-linejoin="round" stroke-linecap="round"/>
<path d="M392.0 276.0L400.0 270.0M394.0 278.5L400.0 274.0M396.0 281.0L400.0 278.0" fill="none" stroke="#161616" stroke-width="0.92" stroke-linejoin="round" stroke-linecap="round"/>
<path d="M409.0 257.0L430.0 275.5L411.0 292.2L392.0 274.0Z" fill="none" stroke="#161616" stroke-width="1.03" stroke-linejoin="round" stroke-linecap="round"/>
<path d="M409.0 257.0L414.0 255.0L432.0 273.8L430.0 275.5" fill="none" stroke="#161616" stroke-width="1.03" stroke-linejoin="round" stroke-linecap="round"/>
<path d="M430.0 275.5L439.0 284.0L420.0 302.0L414.5 295.5L411.0 292.2" fill="none" stroke="#161616" stroke-width="1.15" stroke-linejoin="round" stroke-linecap="round"/>
<path d="M432.0 273.8L434.5 276.5" fill="none" stroke="#161616" stroke-width="0.92" stroke-linejoin="round" stroke-linecap="round"/>
<path d="M411.1 259.0L394.2 275.8M413.0 260.8L396.2 277.8M419.2 266.2L402.2 283.2M425.2 271.5L408.2 288.5M427.8 273.8L410.6 290.8" fill="none" stroke="#161616" stroke-width="0.92" stroke-linejoin="round" stroke-linecap="round"/>
<path d="M419.2 266.2L413.0 260.8" fill="none" stroke="#161616" stroke-width="0.57" stroke-linejoin="round" stroke-linecap="round"/>
<path d="M432.2 278.5L416.2 294.8M436.0 282.5L419.2 299.2" fill="none" stroke="#161616" stroke-width="0.92" stroke-linejoin="round" stroke-linecap="round"/>
<path d="M424.0 287.0L427.0 289.8M429.0 282.5L432.0 285.5M425.5 285.5L428.5 288.3" fill="none" stroke="#161616" stroke-width="1.38" stroke-linejoin="round" stroke-linecap="round"/>
<path d="M387.0 255.0L388.5 257.0M380.0 261.5L390.0 259.5L398.0 253.0M380.0 264.0L391.0 261.8L400.0 254.0" fill="none" stroke="#161616" stroke-width="1.03" stroke-linejoin="round" stroke-linecap="round"/>
<path d="M392.0 255.0L386.0 266.0M395.0 256.0L390.0 266.0" fill="none" stroke="#161616" stroke-width="0.92" stroke-linejoin="round" stroke-linecap="round"/>
<path d="M400.0 253.0L400.0 259.0L408.0 259.0" fill="none" stroke="#161616" stroke-width="0.92" stroke-linejoin="round" stroke-linecap="round"/>
<path d="M380.0 297.0L386.0 296.0L391.0 310.0L386.0 312.0M383.0 298.0L387.5 311.0M380.0 304.0L383.0 320.0M386.0 312.0L387.0 320.0" fill="none" stroke="#161616" stroke-width="0.92" stroke-linejoin="round" stroke-linecap="round"/>
<path d="M308.75 320.0L315.0 325.0L350.0 325.0M315.0 325.0L315.0 330.62" fill="none" stroke="#161616" stroke-width="0.92" stroke-linejoin="round" stroke-linecap="round"/>
<path d="M290.0 340.0L286.25 351.25L266.25 365.0L266.88 370.0L270.62 395.0L275.0 400.0L291.25 417.75L298.75 420.0L299.38 416.88L311.25 417.5L315.0 411.25" fill="none" stroke="#161616" stroke-width="1.26" stroke-linejoin="round" stroke-linecap="round"/>
<path d="M288.12 352.75L268.5 366.0L272.25 394.5L276.25 398.75L292.5 416.0" fill="none" stroke="#161616" stroke-width="0.69" stroke-linejoin="round" stroke-linecap="round"/>
<path d="M286.25 351.25L289.0 370.0L293.75 373.75L293.75 395.0L298.75 405.0L299.38 416.88" fill="none" stroke="#161616" stroke-width="1.03" stroke-linejoin="round" stroke-linecap="round"/>
<path d="M299.38 407.5L310.0 410.25L311.25 417.5" fill="none" stroke="#161616" stroke-width="1.03" stroke-linejoin="round" stroke-linecap="round"/>
<path d="M268.75 378.75L289.0 370.0" fill="none" stroke="#161616" stroke-width="1.03" stroke-linejoin="round" stroke-linecap="round"/>
<path d="M270.62 395.0L271.88 396.25" fill="none" stroke="#161616" stroke-width="0.92" stroke-linejoin="round" stroke-linecap="round"/>
<path d="M290.0 340.0L303.75 340.0L303.75 370.0L293.75 373.75" fill="none" stroke="#161616" stroke-width="1.15" stroke-linejoin="round" stroke-linecap="round"/>
<path d="M293.75 342.5L293.75 370.0M295.25 342.5L295.25 370.0" fill="none" stroke="#161616" stroke-width="1.03" stroke-linejoin="round" stroke-linecap="round"/>
<path d="M292.5 343.12L292.5 369.38" fill="none" stroke="#555" stroke-width="2.07" stroke-linejoin="round" stroke-linecap="round"/>
<path d="M293.75 370.0L303.75 367.5" fill="none" stroke="#161616" stroke-width="0.8" stroke-linejoin="round" stroke-linecap="round"/>
<path d="M305.0 340.0L305.0 385.0M316.25 340.0L316.25 372.5M320.0 340.0L320.0 385.0M323.75 340.0L323.75 382.5" fill="none" stroke="#161616" stroke-width="1.03" stroke-linejoin="round" stroke-linecap="round"/>
<path d="M305.0 348.75L316.25 348.75M305.0 362.5L320.0 362.5M305.0 372.5L320.0 372.5M308.75 348.75L308.75 362.5M310.0 362.5L310.0 372.5" fill="none" stroke="#161616" stroke-width="0.92" stroke-linejoin="round" stroke-linecap="round"/>
<path d="M303.75 340.0L323.75 340.0" fill="none" stroke="#161616" stroke-width="1.03" stroke-linejoin="round" stroke-linecap="round"/>
<path d="M325.62 345.0L325.62 350.0L326.88 350.0L326.88 345.0" fill="none" stroke="#161616" stroke-width="0.8" stroke-linejoin="round" stroke-linecap="round"/>
<path d="M305.0 375.0L317.5 373.75L320.0 376.25M306.25 385.0L317.5 382.5" fill="none" stroke="#161616" stroke-width="0.92" stroke-linejoin="round" stroke-linecap="round"/>
<path d="M296.25 390.0L305.0 387.5L316.25 393.75L310.0 407.5L300.0 401.25L296.25 395.0Z" fill="none" stroke="#161616" stroke-width="1.15" stroke-linejoin="round" stroke-linecap="round"/>
<path d="M299.38 396.25L305.62 392.5L312.5 396.25M301.25 400.0L307.5 395.0M303.75 403.75L311.25 398.75M305.0 387.5L302.5 382.5M296.88 390.0L296.88 385.0" fill="none" stroke="#161616" stroke-width="0.92" stroke-linejoin="round" stroke-linecap="round"/>
<path d="M316.25 393.75L318.12 406.25L315.0 411.25" fill="none" stroke="#161616" stroke-width="0.92" stroke-linejoin="round" stroke-linecap="round"/>
<path d="M323.75 382.5L340.25 382.5M336.25 340.0L336.25 377.5L350.0 377.5M337.5 360.0L350.0 360.0M340.25 362.5L350.0 362.5M340.25 362.5L340.25 377.5" fill="none" stroke="#161616" stroke-width="1.03" stroke-linejoin="round" stroke-linecap="round"/>
<path d="M323.75 387.5L350.0 387.5M327.5 390.0L327.5 420.0M323.75 382.5L322.75 420.0M340.25 382.5L340.25 387.5" fill="none" stroke="#161616" stroke-width="0.92" stroke-linejoin="round" stroke-linecap="round"/>
<path d="M337.5 367.5L350.0 367.5M337.5 373.75L350.0 373.75" fill="none" stroke="#161616" stroke-width="0.8" stroke-linejoin="round" stroke-linecap="round"/>
<rect x="340.62" y="333.12" width="4.38" height="6.88" fill="url(#dots)" stroke="#161616" stroke-width="1.38"/>
<path d="M340.0 327.5L382.5 327.5M345.0 321.25L358.75 321.25L358.75 325.0L345.0 325.0M365.0 320.0L365.0 327.5M377.5 320.0L377.5 327.5M382.5 320.0L385.0 327.5" fill="none" stroke="#161616" stroke-width="0.92" stroke-linejoin="round" stroke-linecap="round"/>
<path d="M340.0 325.0L363.75 325.0" fill="none" stroke="#161616" stroke-width="0.92" stroke-linejoin="round" stroke-linecap="round"/>
<rect x="341.25" y="333.12" width="3.75" height="6.88" fill="url(#dots)" stroke="#161616" stroke-width="1.38"/>
<rect x="358.12" y="333.12" width="3.75" height="6.88" fill="url(#dots)" stroke="#161616" stroke-width="1.38"/>
<path d="M345.0 333.75L358.12 333.75M345.0 339.38L358.12 339.38" fill="none" stroke="#161616" stroke-width="1.03" stroke-linejoin="round" stroke-linecap="round"/>
<path d="M365.0 330.0L382.5 330.0M366.25 332.5L381.25 332.5" fill="none" stroke="#161616" stroke-width="1.49" stroke-linejoin="round" stroke-linecap="round"/>
<path d="M349.38 343.75L353.75 343.75M348.12 345.62L355.0 345.62M347.25 347.5L356.0 347.5M346.25 349.38L356.88 349.38" fill="none" stroke="#888" stroke-width="1.03" stroke-linejoin="round" stroke-linecap="round"/>
<path d="M340.0 360.0L363.75 360.0L363.75 375.0M342.5 361.25L342.5 364.38L361.25 364.38L361.25 361.25M340.0 367.5L363.75 367.5M340.0 370.0L363.12 370.0" fill="none" stroke="#161616" stroke-width="1.03" stroke-linejoin="round" stroke-linecap="round"/>
<path d="M347.5 361.25L347.5 363.12L356.25 363.12L356.25 361.25" fill="none" stroke="#161616" stroke-width="0.92" stroke-linejoin="round" stroke-linecap="round"/>
<path d="M366.25 338.75L366.25 375.0" fill="none" stroke="#161616" stroke-width="1.84" stroke-linejoin="round" stroke-linecap="round"/>
<path d="M368.12 345.0L380.0 345.0M368.12 345.0L368.12 375.0M376.25 345.0L376.25 350.0" fill="none" stroke="#161616" stroke-width="0.92" stroke-linejoin="round" stroke-linecap="round"/>
<path d="M340.0 378.75L362.5 378.75L362.5 390.0L340.0 390.0" fill="none" stroke="#161616" stroke-width="1.61" stroke-linejoin="round" stroke-linecap="round"/>
<path d="M340.0 381.25L362.5 381.25M340.0 387.5L362.5 387.5" fill="none" stroke="#161616" stroke-width="0.8" stroke-linejoin="round" stroke-linecap="round"/>
<path d="M340.0 395.0L376.25 395.0L380.0 390.0L380.0 382.5L376.88 385.25L376.88 390.0M373.75 382.5L373.75 385.62" fill="none" stroke="#161616" stroke-width="1.03" stroke-linejoin="round" stroke-linecap="round"/>
<path d="M349.38 396.88L349.38 420.0M356.25 396.88L356.25 420.0M352.5 397.5L352.5 420.0" fill="none" stroke="#161616" stroke-width="1.03" stroke-linejoin="round" stroke-linecap="round"/>
<path d="M381.25 390.0L386.25 390.0L386.25 420.0M381.25 390.0L381.25 420.0" fill="none" stroke="#161616" stroke-width="1.49" stroke-linejoin="round" stroke-linecap="round"/>
<path d="M383.75 330.0L410.0 330.0L414.0 333.75L420.0 357.5L422.5 367.5L423.12 390.0L417.5 395.0L398.75 412.5L387.5 418.75" fill="none" stroke="#161616" stroke-width="1.15" stroke-linejoin="round" stroke-linecap="round"/>
<path d="M383.75 332.5L412.5 332.5M395.0 330.0L396.25 332.5M417.5 357.5L420.62 368.12L421.25 388.75L416.5 393.12L398.12 410.25" fill="none" stroke="#161616" stroke-width="0.8" stroke-linejoin="round" stroke-linecap="round"/>
<path d="M383.75 338.75L381.25 375.0M385.62 338.75L383.5 375.0M397.5 338.75L400.0 370.0M399.38 338.75L401.88 370.0" fill="none" stroke="#161616" stroke-width="0.92" stroke-linejoin="round" stroke-linecap="round"/>
<path d="M400.0 340.0L410.0 340.0L413.75 370.0L402.5 372.5" fill="none" stroke="#161616" stroke-width="1.03" stroke-linejoin="round" stroke-linecap="round"/>
<path d="M401.88 342.5L408.5 342.5L411.5 368.12" fill="none" stroke="#161616" stroke-width="0.69" stroke-linejoin="round" stroke-linecap="round"/>
<path d="M385.0 347.5L397.5 347.5M384.5 351.25L398.0 351.25M383.75 361.25L398.75 361.25M383.75 363.25L398.75 363.25M392.5 363.25L392.5 375.0" fill="none" stroke="#161616" stroke-width="1.03" stroke-linejoin="round" stroke-linecap="round"/>
<path d="M410.0 340.0L415.0 338.75L420.0 357.5M415.0 378.75L422.5 380.25M413.75 370.0L421.25 367.5" fill="none" stroke="#161616" stroke-width="0.92" stroke-linejoin="round" stroke-linecap="round"/>
<path d="M387.5 378.75L395.0 407.5L398.75 412.5M390.0 378.75L396.88 406.25" fill="none" stroke="#161616" stroke-width="1.03" stroke-linejoin="round" stroke-linecap="round"/>
<path d="M392.5 390.0L402.5 387.5L410.0 400.0L396.25 407.5M395.0 395.0L405.0 391.88M396.88 400.0L406.88 396.5M398.75 388.5L405.0 402.5M401.25 378.75L407.5 395.0" fill="none" stroke="#161616" stroke-width="0.92" stroke-linejoin="round" stroke-linecap="round"/>
<path d="M405.0 407.5L408.12 409.38" fill="none" stroke="#161616" stroke-width="1.72" stroke-linejoin="round" stroke-linecap="round"/>
<path d="M325.0 390.0L326.88 395.62L376.25 395.62L380.0 390.0" fill="none" stroke="#161616" stroke-width="1.15" stroke-linejoin="round" stroke-linecap="round"/>
<path d="M318.75 396.25L318.75 442.5M321.88 396.25L321.88 431.25M326.88 396.25L326.88 438.12" fill="none" stroke="#161616" stroke-width="1.03" stroke-linejoin="round" stroke-linecap="round"/>
<circle cx="322.5" cy="430.75" r="0.88" fill="none" stroke="#161616" stroke-width="0.92"/>
<path d="M382.5 392.5L386.25 402.5L386.25 447.5L380.0 467.5L370.0 477.5" fill="none" stroke="#161616" stroke-width="1.38" stroke-linejoin="round" stroke-linecap="round"/>
<path d="M380.0 393.75L381.88 402.5L381.88 446.25L375.0 450.25M386.25 447.5L381.88 446.25M380.0 467.5L371.88 471.88" fill="none" stroke="#161616" stroke-width="0.92" stroke-linejoin="round" stroke-linecap="round"/>
<path d="M349.38 396.88L349.38 438.75M351.25 396.88L351.25 437.5M355.0 396.88L355.0 436.25M356.5 396.88L356.5 436.25" fill="none" stroke="#161616" stroke-width="1.03" stroke-linejoin="round" stroke-linecap="round"/>
<rect x="352.5" y="408.12" width="3.12" height="3.75" fill="none" stroke="#161616" stroke-width="0.92"/>
<rect x="352.5" y="423.75" width="3.12" height="3.75" fill="none" stroke="#161616" stroke-width="0.92"/>
<rect x="352.5" y="416.25" width="3.12" height="3.75" fill="none" stroke="#161616" stroke-width="0.69"/>
<path d="M355.0 448.75L355.0 466.25M358.75 448.75L358.75 470.0M355.0 450.62L358.75 450.62M355.0 463.75L358.75 463.75" fill="none" stroke="#161616" stroke-width="0.92" stroke-linejoin="round" stroke-linecap="round"/>
<path d="M360.62 446.88L368.75 454.38L360.62 462.5Z" fill="url(#dots)" stroke="#777" stroke-width="0.57" stroke-linejoin="round" stroke-linecap="round"/>
<path d="M350.0 438.75L368.75 454.38L358.75 465.0" fill="none" stroke="#161616" stroke-width="1.03" stroke-linejoin="round" stroke-linecap="round"/>
<g transform="rotate(-6 360.88 431.25)">
<rect x="358.5" y="435.0" width="5.0" height="4.38" fill="#8a8a8a" stroke="#161616" stroke-width="0.0"/>
<rect x="358.75" y="433.12" width="4.5" height="0.88" fill="#c0c0c0" stroke="#161616" stroke-width="0.0"/>
<rect x="359.0" y="431.12" width="4.25" height="0.88" fill="#c0c0c0" stroke="#161616" stroke-width="0.0"/>
<rect x="359.25" y="429.12" width="4.0" height="0.88" fill="#c0c0c0" stroke="#161616" stroke-width="0.0"/>
<rect x="359.5" y="427.12" width="3.75" height="0.88" fill="#c0c0c0" stroke="#161616" stroke-width="0.0"/>
<rect x="359.75" y="425.12" width="3.5" height="0.88" fill="#c0c0c0" stroke="#161616" stroke-width="0.0"/>
</g>
<rect x="347.25" y="445.88" width="4.62" height="4.12" fill="#8a8a8a" stroke="#161616" stroke-width="0.0"/>
<rect x="347.25" y="451.25" width="4.38" height="0.88" fill="#c0c0c0" stroke="#161616" stroke-width="0.0"/>
<rect x="347.25" y="453.25" width="4.12" height="0.88" fill="#c0c0c0" stroke="#161616" stroke-width="0.0"/>
<rect x="347.25" y="455.25" width="3.88" height="0.88" fill="#c0c0c0" stroke="#161616" stroke-width="0.0"/>
<rect x="347.25" y="457.25" width="3.62" height="0.88" fill="#c0c0c0" stroke="#161616" stroke-width="0.0"/>
<rect x="347.25" y="459.25" width="3.38" height="0.88" fill="#c0c0c0" stroke="#161616" stroke-width="0.0"/>
<path d="M318.75 442.5L341.25 439.0M318.75 442.5L335.62 471.25M321.5 441.5L338.12 470.0M328.75 440.62L336.5 460.0" fill="none" stroke="#161616" stroke-width="1.03" stroke-linejoin="round" stroke-linecap="round"/>
<path d="M302.5 458.12L316.25 458.12L320.0 467.5L321.5 490.0" fill="none" stroke="#161616" stroke-width="1.26" stroke-linejoin="round" stroke-linecap="round"/>
<path d="M300.0 460.0L302.5 458.12M313.75 460.0L318.75 470.0" fill="none" stroke="#161616" stroke-width="0.8" stroke-linejoin="round" stroke-linecap="round"/>
<path d="M322.5 470.0L326.88 467.5L337.5 480.0L344.0 485.25M323.12 472.5L323.12 477.5L328.75 477.5L328.75 472.75M337.5 471.25L340.0 473.75L337.5 476.25M325.0 480.0L325.0 487.5L341.25 487.5" fill="none" stroke="#161616" stroke-width="1.03" stroke-linejoin="round" stroke-linecap="round"/>
<circle cx="361.5" cy="489.5" r="16.5" fill="#fff" stroke="#161616" stroke-width="1.49"/>
<circle cx="361.5" cy="489.5" r="15.0" fill="none" stroke="#4a4a4a" stroke-width="0.68"/>
<circle cx="361.5" cy="489.5" r="13.62" fill="none" stroke="#4a4a4a" stroke-width="0.78"/>
<circle cx="361.5" cy="489.5" r="12.25" fill="none" stroke="#4a4a4a" stroke-width="0.68"/>
<circle cx="361.5" cy="489.5" r="10.88" fill="none" stroke="#4a4a4a" stroke-width="0.88"/>
<circle cx="361.5" cy="489.5" r="9.5" fill="none" stroke="#4a4a4a" stroke-width="0.68"/>
<circle cx="361.5" cy="489.5" r="7.75" fill="none" stroke="#161616" stroke-width="1.26"/>
<path d="M387.5 416.25L396.25 416.25L400.0 413.75M390.0 418.25L396.88 418.25" fill="none" stroke="#161616" stroke-width="1.03" stroke-linejoin="round" stroke-linecap="round"/>
<ellipse cx="361.5" cy="490.0" rx="7.25" ry="3.0" transform="rotate(-42 361.5 490.0)" fill="none" stroke="#161616" stroke-width="1.26"/>
<ellipse cx="361.5" cy="490.0" rx="4.5" ry="1.38" transform="rotate(-42 361.5 490.0)" fill="none" stroke="#161616" stroke-width="1.15"/>
<path d="M355.75 496.25L367.5 483.75M354.75 494.75L366.25 482.5" fill="none" stroke="#161616" stroke-width="1.15" stroke-linejoin="round" stroke-linecap="round"/>
<circle cx="361.5" cy="490.0" r="1.25" fill="none" stroke="#161616" stroke-width="0.92"/>
<path d="M 303.75 460.0 Q 295.0 485.0 295.62 510.0 Q 298.75 525.0 311.25 550.0 L 316.25 560.0" fill="none" stroke="#161616" stroke-width="1.26" stroke-linejoin="round" stroke-linecap="round"/>
<path d="M 298.75 511.25 Q 301.88 526.25 313.75 551.25 L 318.12 560.0" fill="none" stroke="#161616" stroke-width="0.69" stroke-linejoin="round" stroke-linecap="round"/>
<path d="M296.25 510.0L308.75 507.5L312.75 512.5L328.75 514.0L333.75 502.5L336.5 497.5" fill="none" stroke="#161616" stroke-width="1.15" stroke-linejoin="round" stroke-linecap="round"/>
<path d="M296.25 510.0L323.75 502.75L336.5 497.5M325.0 503.75L323.75 515.0L329.0 537.5L330.25 545.0L336.25 560.0" fill="none" stroke="#161616" stroke-width="1.15" stroke-linejoin="round" stroke-linecap="round"/>
<path d="M326.5 504.0L325.25 515.0L330.5 537.5" fill="none" stroke="#161616" stroke-width="0.69" stroke-linejoin="round" stroke-linecap="round"/>
<path d="M328.75 514.0L342.5 521.25L352.75 513.75L355.0 508.75" fill="none" stroke="#161616" stroke-width="1.26" stroke-linejoin="round" stroke-linecap="round"/>
<path d="M342.5 521.25L345.0 538.75L341.5 545.0L343.12 560.0" fill="none" stroke="#161616" stroke-width="1.15" stroke-linejoin="round" stroke-linecap="round"/>
<path d="M331.5 528.5L335.0 528.25M334.0 541.5L337.5 541.25" fill="none" stroke="#161616" stroke-width="2.07" stroke-linejoin="round" stroke-linecap="round"/>
<path d="M315.0 460.0L321.25 485.0L332.75 487.75M321.25 467.5L321.25 485.0M317.5 460.0L323.12 483.75" fill="none" stroke="#161616" stroke-width="1.03" stroke-linejoin="round" stroke-linecap="round"/>
<rect x="323.75" y="470.25" width="6.25" height="9.75" fill="none" stroke="#161616" stroke-width="1.03"/>
<path d="M323.75 475.0L330.0 475.0" fill="none" stroke="#161616" stroke-width="0.8" stroke-linejoin="round" stroke-linecap="round"/>
<path d="M332.75 487.75L342.5 483.75L335.25 471.5L338.75 470.0M334.0 490.0L340.0 491.25L340.0 500.0L335.25 502.5M335.0 471.25L335.0 467.5L338.75 466.25L338.75 470.0" fill="none" stroke="#161616" stroke-width="1.03" stroke-linejoin="round" stroke-linecap="round"/>
<path d="M307.5 537.5L327.5 537.5L330.25 542.5M310.0 541.25L329.0 541.25" fill="none" stroke="#161616" stroke-width="1.03" stroke-linejoin="round" stroke-linecap="round"/>
<path d="M316.25 545.0L330.0 545.0L336.5 560.0L322.5 560.0Z" fill="#777" stroke="#161616" stroke-width="1.15" stroke-linejoin="round" stroke-linecap="round"/>
<path d="M317.5 545.62L323.75 560.0" fill="none" stroke="#fff" stroke-width="1.15" stroke-linejoin="round" stroke-linecap="round"/>
<path d="M319.75 545.62L326.0 560.0" fill="none" stroke="#fff" stroke-width="1.15" stroke-linejoin="round" stroke-linecap="round"/>
<path d="M322.0 545.62L328.25 560.0" fill="none" stroke="#fff" stroke-width="1.15" stroke-linejoin="round" stroke-linecap="round"/>
<path d="M324.25 545.62L330.5 560.0" fill="none" stroke="#fff" stroke-width="1.15" stroke-linejoin="round" stroke-linecap="round"/>
<path d="M326.5 545.62L332.75 560.0" fill="none" stroke="#fff" stroke-width="1.15" stroke-linejoin="round" stroke-linecap="round"/>
<path d="M328.75 545.62L335.0 560.0" fill="none" stroke="#fff" stroke-width="1.15" stroke-linejoin="round" stroke-linecap="round"/>
<path d="M353.75 507.5L353.75 512.5L362.75 512.5L362.75 507.5M355.0 515.0L380.0 525.25M362.5 512.5L380.0 520.0" fill="none" stroke="#161616" stroke-width="1.03" stroke-linejoin="round" stroke-linecap="round"/>
<path d="M367.5 473.75L380.0 466.25M370.25 477.5L380.0 471.5M372.5 481.25L380.0 476.88" fill="none" stroke="#161616" stroke-width="1.03" stroke-linejoin="round" stroke-linecap="round"/>
<rect x="347.5" y="525.0" width="6" height="6" fill="url(#hatch)"/>
<path d="M381.25 440.0L383.75 465.0L381.25 472.75L371.25 477.5M378.75 440.0L381.0 464.38L379.0 470.62L370.0 475.0" fill="none" stroke="#161616" stroke-width="1.26" stroke-linejoin="round" stroke-linecap="round"/>
<path d="M377.5 500.0L392.5 515.0L395.25 527.5L398.75 540.0M375.25 502.5L390.0 525.0L393.75 540.0" fill="none" stroke="#161616" stroke-width="1.15" stroke-linejoin="round" stroke-linecap="round"/>
<path d="M381.25 502.5L390.62 513.12" fill="none" stroke="#161616" stroke-width="0.69" stroke-linejoin="round" stroke-linecap="round"/>
<path d="M353.75 507.5L363.75 507.5L363.75 512.5M340.0 521.25L353.75 513.75L363.75 512.5L392.5 526.5" fill="none" stroke="#161616" stroke-width="1.38" stroke-linejoin="round" stroke-linecap="round"/>
<path d="M340.0 523.12L354.0 515.62L363.75 514.38L390.0 527.5" fill="none" stroke="#161616" stroke-width="0.8" stroke-linejoin="round" stroke-linecap="round"/>
<path d="M 393.5 530.0 Q 400.25 548.0 397.25 564.5 Q 395.0 575.0 386.0 590.0 L 386.0 602.0" fill="none" stroke="#161616" stroke-width="1.26" stroke-linejoin="round" stroke-linecap="round"/>
<path d="M 390.8 531.5 Q 397.25 548.0 394.7 563.75" fill="none" stroke="#161616" stroke-width="0.69" stroke-linejoin="round" stroke-linecap="round"/>
<path d="M388.25 559.25L393.5 560.75L392.75 562.7L387.8 561.2Z" fill="none" stroke="#161616" stroke-width="0.92" stroke-linejoin="round" stroke-linecap="round"/>
<path d="M303.5 530.0L320.0 572.0L333.5 578.0L335.0 564.5L327.5 545.0L309.5 540.5" fill="none" stroke="#161616" stroke-width="1.26" stroke-linejoin="round" stroke-linecap="round"/>
<path d="M306.5 531.5L321.8 569.75L332.0 574.7" fill="none" stroke="#161616" stroke-width="0.69" stroke-linejoin="round" stroke-linecap="round"/>
<path d="M318.5 546.5L329.3 546.5L333.8 570.5L324.8 567.5Z" fill="#777" stroke="#161616" stroke-width="1.15" stroke-linejoin="round" stroke-linecap="round"/>
<path d="M320.0 547.25L326.0 569.3" fill="none" stroke="#fff" stroke-width="1.03" stroke-linejoin="round" stroke-linecap="round"/>
<path d="M321.95 547.25L327.65 569.3" fill="none" stroke="#fff" stroke-width="1.03" stroke-linejoin="round" stroke-linecap="round"/>
<path d="M323.9 547.25L329.3 569.3" fill="none" stroke="#fff" stroke-width="1.03" stroke-linejoin="round" stroke-linecap="round"/>
<path d="M325.85 547.25L330.95 569.3" fill="none" stroke="#fff" stroke-width="1.03" stroke-linejoin="round" stroke-linecap="round"/>
<path d="M327.8 547.25L332.6 569.3" fill="none" stroke="#fff" stroke-width="1.03" stroke-linejoin="round" stroke-linecap="round"/>
<path d="M312.5 542.0L318.5 546.5M327.5 545.0L329.3 546.5" fill="none" stroke="#161616" stroke-width="0.92" stroke-linejoin="round" stroke-linecap="round"/>
<path d="M339.5 530.0L342.5 542.0L338.0 545.0L339.8 558.5M335.0 540.8L338.0 540.5" fill="none" stroke="#161616" stroke-width="1.15" stroke-linejoin="round" stroke-linecap="round"/>
<path d="M 335.0 564.5 Q 340.25 575.0 338.3 605.0 Q 336.8 620.0 323.0 647.0" fill="none" stroke="#161616" stroke-width="1.26" stroke-linejoin="round" stroke-linecap="round"/>
<path d="M 336.8 564.5 Q 343.25 579.5 341.75 605.0 Q 340.25 620.0 335.0 626.0" fill="none" stroke="#161616" stroke-width="1.03" stroke-linejoin="round" stroke-linecap="round"/>
<path d="M344.0 558.5L368.0 599.0L366.8 626.0M344.0 558.5L339.5 560.0M342.5 573.5L365.0 605.0M345.8 587.0L363.8 608.0M342.5 573.5L345.8 587.0" fill="none" stroke="#161616" stroke-width="1.15" stroke-linejoin="round" stroke-linecap="round"/>
<path d="M347.0 563.75L370.25 599.75" fill="none" stroke="#161616" stroke-width="0.69" stroke-linejoin="round" stroke-linecap="round"/>
<path d="M368.0 599.0L386.0 590.0L393.5 572.3L398.3 570.5M370.25 603.5L386.0 594.8" fill="none" stroke="#161616" stroke-width="1.15" stroke-linejoin="round" stroke-linecap="round"/>
<path d="M371.0 579.5L377.0 576.5L383.3 590.0L374.0 597.8Z" fill="none" stroke="#161616" stroke-width="1.15" stroke-linejoin="round" stroke-linecap="round"/>
<path d="M371.75 581.75L378.2 579.5M372.2 584.75L379.4 582.2M372.8 587.75L380.6 585.2M373.25 590.75L381.8 588.2M373.7 593.75L382.4 591.2" fill="none" stroke="#161616" stroke-width="1.26" stroke-linejoin="round" stroke-linecap="round"/>
<path d="M386.0 602.0L387.5 623.0L395.0 635.0L398.3 650.0M389.0 602.0L390.2 622.25" fill="none" stroke="#161616" stroke-width="1.15" stroke-linejoin="round" stroke-linecap="round"/>
<path d="M335.0 625.25L363.5 629.0M366.5 626.0L374.0 624.5L387.5 623.0" fill="none" stroke="#161616" stroke-width="1.26" stroke-linejoin="round" stroke-linecap="round"/>
<path d="M363.5 626.0L369.5 624.5L374.0 629.0L369.5 635.0L363.5 632.0Z" fill="none" stroke="#161616" stroke-width="1.15" stroke-linejoin="round" stroke-linecap="round"/>
<path d="M369.5 635.0L368.3 650.0M363.5 632.0L363.8 650.0" fill="none" stroke="#161616" stroke-width="1.03" stroke-linejoin="round" stroke-linecap="round"/>
<path d="M368.0 610.25L371.75 610.25M368.0 620.0L371.75 620.0" fill="none" stroke="#161616" stroke-width="1.61" stroke-linejoin="round" stroke-linecap="round"/>
<path d="M327.5 635.0L333.5 636.8L332.0 641.0L326.0 639.5" fill="none" stroke="#161616" stroke-width="0.92" stroke-linejoin="round" stroke-linecap="round"/>
<path d="M383.3 629.75L393.5 630.8L393.5 633.5L386.0 633.5Z" fill="url(#dots)" stroke="#666" stroke-width="0.57" stroke-linejoin="round" stroke-linecap="round"/>
<circle cx="381.0" cy="681.0" r="19.0" fill="#fff" stroke="#161616" stroke-width="1.49"/>
<circle cx="381.0" cy="681.0" r="17.2" fill="none" stroke="#4a4a4a" stroke-width="0.68"/>
<circle cx="381.0" cy="681.0" r="15.6" fill="none" stroke="#4a4a4a" stroke-width="0.78"/>
<circle cx="381.0" cy="681.0" r="14.0" fill="none" stroke="#4a4a4a" stroke-width="0.68"/>
<circle cx="381.0" cy="681.0" r="12.4" fill="none" stroke="#4a4a4a" stroke-width="0.78"/>
<circle cx="381.0" cy="681.0" r="10.8" fill="none" stroke="#4a4a4a" stroke-width="0.68"/>
<circle cx="381.0" cy="681.0" r="9.0" fill="none" stroke="#161616" stroke-width="1.15"/>
<ellipse cx="381.0" cy="681.0" rx="8.4" ry="3.2" transform="rotate(-25 381.0 681.0)" fill="none" stroke="#161616" stroke-width="1.15"/>
<ellipse cx="381.0" cy="681.0" rx="5.2" ry="1.6" transform="rotate(-25 381.0 681.0)" fill="none" stroke="#161616" stroke-width="1.03"/>
<path d="M372.0 686.0L391.0 676.4" fill="none" stroke="#161616" stroke-width="1.03" stroke-linejoin="round" stroke-linecap="round"/>
<path d="M316.0 651.0L303.0 667.0L304.4 671.0L318.0 677.0L354.0 696.0L364.0 692.4" fill="none" stroke="#161616" stroke-width="1.26" stroke-linejoin="round" stroke-linecap="round"/>
<path d="M316.0 651.0L326.0 650.0L368.0 673.0M304.4 671.0L318.0 653.6" fill="none" stroke="#161616" stroke-width="1.15" stroke-linejoin="round" stroke-linecap="round"/>
<path d="M310.0 658.0L340.0 672.4M320.0 663.0L329.0 667.0L328.0 670.0L319.0 666.0L320.0 663.0" fill="none" stroke="#161616" stroke-width="1.03" stroke-linejoin="round" stroke-linecap="round"/>
<path d="M326.0 654.0L364.0 675.0M340.0 660.0L342.0 663.0M346.0 663.0L348.0 666.0" fill="none" stroke="#161616" stroke-width="0.92" stroke-linejoin="round" stroke-linecap="round"/>
<path d="M344.0 684.0L350.4 676.0L360.0 680.0L362.4 686.4L350.4 690.0Z" fill="none" stroke="#161616" stroke-width="1.03" stroke-linejoin="round" stroke-linecap="round"/>
<path d="M332.0 630.0L320.0 650.0M338.4 630.0L329.0 645.0M330.0 637.0L334.4 639.0L332.4 642.0" fill="none" stroke="#161616" stroke-width="1.03" stroke-linejoin="round" stroke-linecap="round"/>
<path d="M364.0 630.0L368.0 648.0L360.0 658.0L344.0 660.0L326.0 650.0M368.0 648.0L372.0 630.0" fill="none" stroke="#161616" stroke-width="1.15" stroke-linejoin="round" stroke-linecap="round"/>
<path d="M348.0 662.0L362.0 662.0M352.0 665.0L352.0 670.0M355.0 665.0L355.0 670.0M358.0 665.0L358.0 670.0" fill="none" stroke="#161616" stroke-width="1.15" stroke-linejoin="round" stroke-linecap="round"/>
<path d="M364.0 658.0L364.0 676.0" fill="none" stroke="#161616" stroke-width="1.15" stroke-linejoin="round" stroke-linecap="round"/>
<path d="M368.0 648.0L392.4 648.0L398.0 652.4L398.0 696.0L392.4 699.0M376.0 650.0L376.0 662.0M394.0 630.0L400.0 646.0L398.0 652.4" fill="none" stroke="#161616" stroke-width="1.15" stroke-linejoin="round" stroke-linecap="round"/>
<rect x="377.0" y="651.6" width="13.0" height="8.4" fill="none" stroke="#161616" stroke-width="1.15"/>
<path d="M383.6 651.6L383.6 660.0M377.0 655.6L390.0 655.6" fill="none" stroke="#161616" stroke-width="0.92" stroke-linejoin="round" stroke-linecap="round"/>
<path d="M372.0 650.0L372.0 664.0M392.0 652.0L392.0 666.0" fill="none" stroke="#161616" stroke-width="0.92" stroke-linejoin="round" stroke-linecap="round"/>
<path d="M262.0 718.0L285.0 699.0L292.0 701.0L308.0 708.0L364.0 709.0L366.4 698.0" fill="none" stroke="#161616" stroke-width="1.26" stroke-linejoin="round" stroke-linecap="round"/>
<path d="M262.0 718.0L261.6 720.4L285.0 725.2L307.0 726.4L412.0 724.0L408.0 712.0L402.4 698.0L372.0 698.0" fill="none" stroke="#161616" stroke-width="1.38" stroke-linejoin="round" stroke-linecap="round"/>
<path d="M261.6 720.4L285.0 725.4L307.0 726.6L411.6 724.2" fill="none" stroke="#161616" stroke-width="2.3" stroke-linejoin="round" stroke-linecap="round"/>
<path d="M308.0 708.0L307.0 726.4M305.6 708.4L304.0 723.2L266.0 718.4" fill="none" stroke="#161616" stroke-width="1.03" stroke-linejoin="round" stroke-linecap="round"/>
<path d="M307.0 724.0L410.0 721.0M364.0 709.0L408.0 711.0M398.0 696.0L402.4 698.0M405.0 712.0L409.0 721.0" fill="none" stroke="#161616" stroke-width="1.03" stroke-linejoin="round" stroke-linecap="round"/>
<path d="M 269.0 716.4 Q 272.0 710.4 276.4 711.0 Q 280.0 713.0 277.0 717.0 Z" fill="none" stroke="#161616" stroke-width="1.03" stroke-linejoin="round" stroke-linecap="round"/>
<path d="M318.0 681.0L292.0 699.0M326.0 680.0L354.0 696.0M285.0 699.0L316.0 682.4" fill="none" stroke="#161616" stroke-width="1.15" stroke-linejoin="round" stroke-linecap="round"/>
<path d="M356.0 724.0L360.0 719.0L364.0 724.0Z" fill="none" stroke="#161616" stroke-width="1.03" stroke-linejoin="round" stroke-linecap="round"/>
<path d="M364.0 709.0L367.0 702.0M361.0 709.0L364.0 700.0" fill="none" stroke="#161616" stroke-width="0.92" stroke-linejoin="round" stroke-linecap="round"/>
<rect x="313.6" y="715.6" width="5.4" height="4.8" fill="#fff" stroke="#161616" stroke-width="0.92"/>
<path d="M319.0 716.4L328.0 716.4L331.0 720.4L319.0 720.4Z" fill="#999" stroke="#666" stroke-width="0.57" stroke-linejoin="round" stroke-linecap="round"/>
<rect x="358.6" y="646.6" width="3.6" height="4.4" fill="#8a8a8a"/>
<rect x="347.5" y="647.6" width="1.1" height="3.2" fill="#c4c4c4" transform="skewX(-15)" transform-origin="347.5 651"/>
<rect x="349.7" y="647.6" width="1.1" height="3.2" fill="#c4c4c4" transform="skewX(-15)" transform-origin="349.7 651"/>
<rect x="351.9" y="647.6" width="1.1" height="3.2" fill="#c4c4c4" transform="skewX(-15)" transform-origin="351.9 651"/>
<rect x="354.1" y="647.6" width="1.1" height="3.2" fill="#c4c4c4" transform="skewX(-15)" transform-origin="354.1 651"/>
<rect x="356.3" y="647.6" width="1.1" height="3.2" fill="#c4c4c4" transform="skewX(-15)" transform-origin="356.3 651"/>
<path d="M549.38 40.0L541.25 39.38L538.75 58.75L535.62 70.0L538.75 88.75L547.5 98.12L549.38 97.5" fill="none" stroke="#161616" stroke-width="1.38" stroke-linejoin="round" stroke-linecap="round"/>
<path d="M593.12 40.0L601.25 39.38L605.0 58.75L607.5 70.0L605.0 88.75L595.0 98.12L593.12 97.5" fill="none" stroke="#161616" stroke-width="1.38" stroke-linejoin="round" stroke-linecap="round"/>
<path d="M549.38 40.0L549.38 97.5M593.12 40.0L593.12 97.5M546.88 41.25L546.88 96.88M595.62 41.25L595.62 96.88" fill="none" stroke="#161616" stroke-width="1.15" stroke-linejoin="round" stroke-linecap="round"/>
<path d="M549.38 40.0L593.12 40.0" fill="none" stroke="#161616" stroke-width="1.84" stroke-linejoin="round" stroke-linecap="round"/>
<path d="M549.38 43.75L593.12 43.75M541.25 46.25L546.88 45.0M601.25 46.25L595.62 45.0M538.75 58.75L546.88 56.88M605.0 58.75L595.62 56.88" fill="none" stroke="#161616" stroke-width="1.03" stroke-linejoin="round" stroke-linecap="round"/>
<path d="M566.25 41.88L576.25 41.88" fill="none" stroke="#161616" stroke-width="2.07" stroke-linejoin="round" stroke-linecap="round"/>
<path d="M537.5 71.25L535.62 70.0M605.0 71.25L607.5 70.0" fill="none" stroke="#161616" stroke-width="0.92" stroke-linejoin="round" stroke-linecap="round"/>
<rect x="555.0" y="49.38" width="32.5" height="4.62" fill="#666" stroke="#161616" stroke-width="0.69"/>
<rect x="551.25" y="54.62" width="40.0" height="11.0" rx="1.2" fill="#fff" stroke="#111" stroke-width="1.5"/>
<rect x="555.62" y="60.0" width="31.25" height="2.0" fill="#111" stroke="#161616" stroke-width="0.0"/>
<path d="M555.62 57.25L586.88 57.25" fill="none" stroke="#161616" stroke-width="0.92" stroke-linejoin="round" stroke-linecap="round"/>
<path d="M550.0 67.5L592.5 67.5M551.88 68.75L551.88 92.5M590.25 68.75L590.25 92.5" fill="none" stroke="#161616" stroke-width="1.15" stroke-linejoin="round" stroke-linecap="round"/>
<path d="M558.75 66.5L558.75 88.75L562.5 91.5L580.0 91.5L583.75 88.75L583.75 66.5" fill="none" stroke="#161616" stroke-width="1.38" stroke-linejoin="round" stroke-linecap="round"/>
<rect x="563.75" y="67.75" width="15.0" height="21.0" fill="none" stroke="#161616" stroke-width="1.03"/>
<path d="M565.25 77.5L569.75 77.5M573.12 77.5L577.5 77.5" fill="none" stroke="#161616" stroke-width="2.3" stroke-linejoin="round" stroke-linecap="round"/>
<path d="M563.75 73.12L578.75 73.12M563.75 81.25L578.75 81.25" fill="none" stroke="#161616" stroke-width="0.8" stroke-linejoin="round" stroke-linecap="round"/>
<path d="M550.0 92.5L592.5 92.5L590.25 98.12L551.88 98.12Z" fill="none" stroke="#161616" stroke-width="1.26" stroke-linejoin="round" stroke-linecap="round"/>
<path d="M554.38 98.75L551.88 130.0M588.75 98.75L586.25 130.0M558.12 98.75L555.62 130.0M585.0 98.75L583.75 130.0" fill="none" stroke="#161616" stroke-width="1.15" stroke-linejoin="round" stroke-linecap="round"/>
<path d="M566.88 98.75L566.88 103.12L576.25 103.12L576.25 98.75" fill="none" stroke="#161616" stroke-width="1.03" stroke-linejoin="round" stroke-linecap="round"/>
<path d="M563.75 104.38L578.75 104.38L576.5 113.75L565.25 113.75Z" fill="none" stroke="#161616" stroke-width="1.15" stroke-linejoin="round" stroke-linecap="round"/>
<rect x="564.0" y="104.75" width="14.5" height="3.5" fill="#777" stroke="#161616" stroke-width="0.0"/>
<path d="M566.25 111.88L576.0 111.88" fill="none" stroke="#161616" stroke-width="1.72" stroke-linejoin="round" stroke-linecap="round"/>
<rect x="568.75" y="121.88" width="3.75" height="8.75" rx="0.8" fill="none" stroke="#111" stroke-width="1.1"/>
<circle cx="568.75" cy="150.62" r="15.62" fill="#fff" stroke="#161616" stroke-width="1.49"/>
<circle cx="568.75" cy="150.62" r="14.25" fill="none" stroke="#3a3a3a" stroke-width="0.83"/>
<circle cx="568.75" cy="150.62" r="13.0" fill="none" stroke="#3a3a3a" stroke-width="0.93"/>
<circle cx="568.75" cy="150.62" r="11.75" fill="none" stroke="#3a3a3a" stroke-width="0.83"/>
<circle cx="568.75" cy="150.62" r="10.5" fill="none" stroke="#3a3a3a" stroke-width="0.93"/>
<circle cx="568.75" cy="150.62" r="9.25" fill="none" stroke="#3a3a3a" stroke-width="0.83"/>
<circle cx="568.75" cy="150.62" r="7.0" fill="none" stroke="#161616" stroke-width="1.26"/>
<circle cx="568.75" cy="150.62" r="3.75" fill="none" stroke="#161616" stroke-width="1.15"/>
<circle cx="568.75" cy="150.62" r="1.5" fill="none" stroke="#161616" stroke-width="0.92"/>
<path d="M560.62 142.5L565.0 146.88M576.88 142.5L572.5 146.88M560.62 158.75L565.0 154.38M576.88 158.75L572.5 154.38" fill="none" stroke="#161616" stroke-width="1.38" stroke-linejoin="round" stroke-linecap="round"/>
<path d="M551.88 120.0L553.75 130.0L557.75 137.5M555.62 120.0L557.0 128.75L560.25 135.0" fill="none" stroke="#161616" stroke-width="1.15" stroke-linejoin="round" stroke-linecap="round"/>
<path d="M590.0 120.0L587.5 136.25L585.0 141.25M586.25 120.0L584.5 135.0" fill="none" stroke="#161616" stroke-width="1.15" stroke-linejoin="round" stroke-linecap="round"/>
<rect x="568.75" y="121.88" width="3.75" height="8.125" rx="0.8" fill="none" stroke="#111" stroke-width="1.1"/>
<path d="M585.0 141.25L590.0 140.0L590.75 155.0L587.5 156.5M587.5 157.5L595.0 159.0L599.0 172.5L595.0 175.0L590.25 161.5" fill="none" stroke="#161616" stroke-width="1.15" stroke-linejoin="round" stroke-linecap="round"/>
<path d="M591.25 160.0L595.62 173.75M593.12 159.5L597.25 173.12" fill="none" stroke="#161616" stroke-width="0.8" stroke-linejoin="round" stroke-linecap="round"/>
<path d="M555.0 162.5L553.12 166.25L557.75 169.0M556.25 170.0L547.5 182.5" fill="none" stroke="#161616" stroke-width="1.26" stroke-linejoin="round" stroke-linecap="round"/>
<path d="M547.5 182.5L547.5 220.0M555.0 178.75L555.0 220.0M547.5 182.5L555.0 178.75L559.0 170.0M595.0 175.0L595.0 220.0M592.5 175.0L592.5 220.0" fill="none" stroke="#161616" stroke-width="1.15" stroke-linejoin="round" stroke-linecap="round"/>
<path d="M576.88 170.62L583.12 170.62L583.12 182.5L576.88 182.5Z" fill="none" stroke="#161616" stroke-width="1.03" stroke-linejoin="round" stroke-linecap="round"/>
<rect x="572.25" y="180.25" width="6.5" height="12.25" fill="#555" stroke="#161616" stroke-width="1.38"/>
<path d="M574.38 181.25L574.38 191.88M576.5 181.25L576.5 191.88" fill="none" stroke="#ddd" stroke-width="0.92" stroke-linejoin="round" stroke-linecap="round"/>
<path d="M583.12 172.5L583.12 192.75M586.25 173.75L586.25 192.75M580.0 170.62L580.0 180.0" fill="none" stroke="#161616" stroke-width="1.03" stroke-linejoin="round" stroke-linecap="round"/>
<path d="M566.25 193.12L588.75 193.12L588.75 196.25L585.0 196.25M566.25 193.12L566.25 196.25L563.75 196.25L563.75 220.0M578.75 196.25L578.75 220.0" fill="none" stroke="#161616" stroke-width="1.15" stroke-linejoin="round" stroke-linecap="round"/>
<path d="M564.0 208.12L578.5 208.12M564.0 210.25L578.5 210.25" fill="none" stroke="#161616" stroke-width="1.84" stroke-linejoin="round" stroke-linecap="round"/>
<path d="M555.0 200.0L563.75 200.0" fill="none" stroke="#161616" stroke-width="0.8" stroke-linejoin="round" stroke-linecap="round"/>
<path d="M558.75 184.38L558.75 188.75M560.0 184.0L564.0 186.5L560.0 189.0" fill="none" stroke="#666" stroke-width="0.92" stroke-linejoin="round" stroke-linecap="round"/>
<path d="M547.5 200.0L547.5 218.75L548.75 236.25L555.0 241.25L587.5 241.25L593.12 236.25L595.0 218.75L595.0 200.0" fill="none" stroke="#161616" stroke-width="1.15" stroke-linejoin="round" stroke-linecap="round"/>
<path d="M547.5 218.75L595.0 218.75M547.75 216.88L594.75 216.88" fill="none" stroke="#161616" stroke-width="1.03" stroke-linejoin="round" stroke-linecap="round"/>
<path d="M563.75 200.0L563.75 212.5L565.0 220.62L577.5 220.62L578.75 212.5L578.75 200.0" fill="none" stroke="#161616" stroke-width="1.03" stroke-linejoin="round" stroke-linecap="round"/>
<path d="M564.0 208.75L578.5 208.75M564.0 210.62L578.5 210.62" fill="none" stroke="#161616" stroke-width="1.84" stroke-linejoin="round" stroke-linecap="round"/>
<rect x="550.62" y="230.62" width="4.38" height="5.62" fill="none" stroke="#161616" stroke-width="1.03"/>
<rect x="586.25" y="230.62" width="4.38" height="5.62" fill="none" stroke="#161616" stroke-width="1.03"/>
<path d="M565.62 236.25L565.62 229.0L576.25 229.0L576.25 236.25" fill="none" stroke="#161616" stroke-width="1.03" stroke-linejoin="round" stroke-linecap="round"/>
<path d="M552.5 237.5L590.0 237.5M550.0 236.5L592.5 236.5" fill="none" stroke="#161616" stroke-width="0.92" stroke-linejoin="round" stroke-linecap="round"/>
<path d="M553.75 242.5L551.88 262.5L552.5 280.0L555.0 284.0L587.5 284.0L589.5 280.0L590.0 262.5L587.5 242.5" fill="none" stroke="#161616" stroke-width="1.26" stroke-linejoin="round" stroke-linecap="round"/>
<path d="M556.0 243.12L554.38 262.5L555.0 280.0M585.62 243.12L587.5 262.5L587.25 280.0" fill="none" stroke="#161616" stroke-width="0.8" stroke-linejoin="round" stroke-linecap="round"/>
<path d="M561.88 243.12L561.88 248.12L579.38 248.12L579.38 243.12" fill="none" stroke="#161616" stroke-width="1.72" stroke-linejoin="round" stroke-linecap="round"/>
<path d="M555.0 263.75L587.5 263.75" fill="none" stroke="#161616" stroke-width="1.03" stroke-linejoin="round" stroke-linecap="round"/>
<rect x="553.12" y="261.25" width="2.5" height="10.0" fill="none" stroke="#161616" stroke-width="1.03"/>
<rect x="586.25" y="261.25" width="2.5" height="10.0" fill="none" stroke="#161616" stroke-width="1.03"/>
<path d="M549.38 252.5L548.75 262.5L551.88 265.0M550.62 250.0L549.38 252.5" fill="none" stroke="#161616" stroke-width="1.03" stroke-linejoin="round" stroke-linecap="round"/>
<path d="M554.0 280.0L587.5 280.0L586.25 285.25L555.62 285.25Z" fill="#444" stroke="#161616" stroke-width="1.15" stroke-linejoin="round" stroke-linecap="round"/>
<circle cx="557.75" cy="282.5" r="1.12" fill="#ddd" stroke="#161616" stroke-width="0.0"/>
<circle cx="561.62" cy="282.5" r="1.12" fill="#ddd" stroke="#161616" stroke-width="0.0"/>
<circle cx="565.5" cy="282.5" r="1.12" fill="#ddd" stroke="#161616" stroke-width="0.0"/>
<circle cx="569.38" cy="282.5" r="1.12" fill="#ddd" stroke="#161616" stroke-width="0.0"/>
<circle cx="573.25" cy="282.5" r="1.12" fill="#ddd" stroke="#161616" stroke-width="0.0"/>
<circle cx="577.12" cy="282.5" r="1.12" fill="#ddd" stroke="#161616" stroke-width="0.0"/>
<circle cx="581.0" cy="282.5" r="1.12" fill="#ddd" stroke="#161616" stroke-width="0.0"/>
<circle cx="584.88" cy="282.5" r="1.12" fill="#ddd" stroke="#161616" stroke-width="0.0"/>
<rect x="613.5" y="148.5" width="79.0" height="81.0" fill="none" stroke="#333" stroke-width="1" stroke-dasharray="2.2 1.7"/>
<rect x="409.5" y="473.5" width="80.0" height="81.0" fill="none" stroke="#333" stroke-width="1" stroke-dasharray="2.2 1.7"/>
<rect x="168.5" y="663.5" width="86.0" height="82.0" fill="none" stroke="#333" stroke-width="1" stroke-dasharray="2.2 1.7"/>
<circle cx="307.5" cy="69.1" r="10.8" fill="url(#dots)" stroke="#5a5a5a" stroke-width="0.7"/>
<circle cx="628.1" cy="164" r="11.3" fill="url(#dots)" stroke="#5a5a5a" stroke-width="0.7"/>
<circle cx="425.6" cy="488.4" r="12.8" fill="url(#dots)" stroke="#5a5a5a" stroke-width="0.7"/>
<circle cx="185.9" cy="681.25" r="12.6" fill="url(#dots)" stroke="#5a5a5a" stroke-width="0.7"/>
<rect x="474" y="223.3" width="7.5" height="14.699999999999989" rx="0.5" fill="url(#dots)" stroke="#777" stroke-width="0.6"/>
<rect x="474.3" y="267.8" width="7.399999999999977" height="14.800000000000011" rx="0.5" fill="url(#dots)" stroke="#777" stroke-width="0.6"/>
<rect x="474.3" y="312.9" width="7.399999999999977" height="12.400000000000034" rx="0.5" fill="url(#dots)" stroke="#777" stroke-width="0.6"/>
<rect x="153.75" y="332" width="7.0" height="12.5" rx="0.5" fill="url(#dots)" stroke="#777" stroke-width="0.6"/>
<rect x="611.3" y="86.4" width="25.600000000000023" height="9.899999999999991" rx="2.5" fill="url(#dots)" stroke="#777" stroke-width="0.6"/>
<rect x="472.8" y="180.5" width="9.199999999999989" height="9.5" fill="url(#hatch)"/>
<rect x="508.8" y="543.8" width="9.800000000000011" height="9.800000000000068" fill="url(#hatch)"/>
<path d="M475.2 418.2 L475.2 441.6 L476.5 441.6 L488 433.5 L488 427.5 L476.5 418.2 Z" fill="url(#dots)" stroke="#8a8a8a" stroke-width="0.6"/>
<path d="M587.8 417.8 L587.8 442 L586.5 442 L574.5 433 L574.5 427 L586.5 417.8 Z" fill="url(#dots)" stroke="#8a8a8a" stroke-width="0.6"/>
<polygon points="467.4,614.4 484.5,609.1 487.1,621.4 467.9,618.4" fill="url(#dots)" stroke="#8a8a8a" stroke-width="0.6"/>
<polygon points="576.9,608.8 592.1,614 592.7,618.4 573.8,621" fill="url(#dots)" stroke="#8a8a8a" stroke-width="0.6"/>
<rect x="466.3" y="697.6" width="7.7" height="8" fill="#fff" stroke="#444" stroke-width="0.7"/>
<path d="M474 698.6 H488.8 L492.3 705.4 H474 Z" fill="#a4a4a4"/><path d="M474 701.9 H490.5" stroke="#eee" stroke-width="0.7"/>
<rect x="586.2" y="697.6" width="8.6" height="8.2" fill="#fff" stroke="#444" stroke-width="0.7"/>
<path d="M586.2 698.6 H572 L567.6 705.4 H586.2 Z" fill="#a4a4a4"/><path d="M586.2 701.9 H569.8" stroke="#eee" stroke-width="0.7"/>
<path d="M475 356.2 h6 M473.5 358.2 h9 M472 360.4 h12 M471 362.6 h14" stroke="#aaa" stroke-width="0.9" stroke-dasharray="1 0.7"/>
<path d="M626.5 246 v8 M628.3 245.5 L632.3 249.7 L628.3 253.8 Z" fill="none" stroke="#888" stroke-width="0.7"/>
<rect x="152" y="271.25" width="6.25" height="6.41" fill="#8a8a8a"/>
<rect x="152.00" y="278.38" width="6.25" height="0.9" fill="#bdbdbd"/>
<rect x="152.09" y="280.18" width="6.08" height="0.9" fill="#bdbdbd"/>
<rect x="152.18" y="281.98" width="5.90" height="0.9" fill="#bdbdbd"/>
<rect x="152.27" y="283.78" width="5.72" height="0.9" fill="#bdbdbd"/>
<rect x="152.36" y="285.58" width="5.55" height="0.9" fill="#bdbdbd"/>
<rect x="152.45" y="287.38" width="5.38" height="0.9" fill="#bdbdbd"/>
<rect x="152.54" y="289.18" width="5.20" height="0.9" fill="#bdbdbd"/>
<rect x="152.63" y="290.98" width="5.03" height="0.9" fill="#bdbdbd"/>
<rect x="152.72" y="292.78" width="4.85" height="0.9" fill="#bdbdbd"/>
<rect x="273.75" y="286.25" width="6.25" height="6.08" fill="#8a8a8a"/>
<rect x="273.75" y="293.00" width="6.25" height="0.9" fill="#bdbdbd"/>
<rect x="273.84" y="294.80" width="6.08" height="0.9" fill="#bdbdbd"/>
<rect x="273.93" y="296.60" width="5.90" height="0.9" fill="#bdbdbd"/>
<rect x="274.02" y="298.40" width="5.72" height="0.9" fill="#bdbdbd"/>
<rect x="274.11" y="300.20" width="5.55" height="0.9" fill="#bdbdbd"/>
<rect x="274.20" y="302.00" width="5.38" height="0.9" fill="#bdbdbd"/>
<rect x="274.29" y="303.80" width="5.20" height="0.9" fill="#bdbdbd"/>
<rect x="274.38" y="305.60" width="5.03" height="0.9" fill="#bdbdbd"/>
<rect x="274.47" y="307.40" width="4.85" height="0.9" fill="#bdbdbd"/>
<rect x="122.5" y="396.79" width="7.0" height="6.21" fill="#8a8a8a"/>
<rect x="122.50" y="395.20" width="7.00" height="0.9" fill="#bdbdbd"/>
<rect x="122.59" y="393.40" width="6.83" height="0.9" fill="#bdbdbd"/>
<rect x="122.68" y="391.60" width="6.65" height="0.9" fill="#bdbdbd"/>
<rect x="122.77" y="389.80" width="6.47" height="0.9" fill="#bdbdbd"/>
<rect x="122.86" y="388.00" width="6.30" height="0.9" fill="#bdbdbd"/>
<rect x="122.95" y="386.20" width="6.12" height="0.9" fill="#bdbdbd"/>
<rect x="123.04" y="384.40" width="5.95" height="0.9" fill="#bdbdbd"/>
<rect x="123.13" y="382.60" width="5.78" height="0.9" fill="#bdbdbd"/>
<rect x="123.22" y="380.80" width="5.60" height="0.9" fill="#bdbdbd"/>
<rect x="258" y="396.79" width="7" height="6.21" fill="#8a8a8a"/>
<rect x="258.00" y="395.20" width="7.00" height="0.9" fill="#bdbdbd"/>
<rect x="258.09" y="393.40" width="6.83" height="0.9" fill="#bdbdbd"/>
<rect x="258.18" y="391.60" width="6.65" height="0.9" fill="#bdbdbd"/>
<rect x="258.27" y="389.80" width="6.47" height="0.9" fill="#bdbdbd"/>
<rect x="258.36" y="388.00" width="6.30" height="0.9" fill="#bdbdbd"/>
<rect x="258.45" y="386.20" width="6.12" height="0.9" fill="#bdbdbd"/>
<rect x="258.54" y="384.40" width="5.95" height="0.9" fill="#bdbdbd"/>
<rect x="258.63" y="382.60" width="5.78" height="0.9" fill="#bdbdbd"/>
<rect x="258.72" y="380.80" width="5.60" height="0.9" fill="#bdbdbd"/>
<rect x="155" y="467.5" width="6.75" height="6.41" fill="#8a8a8a"/>
<rect x="155.00" y="474.62" width="6.75" height="0.9" fill="#bdbdbd"/>
<rect x="155.09" y="476.43" width="6.58" height="0.9" fill="#bdbdbd"/>
<rect x="155.18" y="478.23" width="6.40" height="0.9" fill="#bdbdbd"/>
<rect x="155.27" y="480.03" width="6.22" height="0.9" fill="#bdbdbd"/>
<rect x="155.36" y="481.83" width="6.05" height="0.9" fill="#bdbdbd"/>
<rect x="155.45" y="483.63" width="5.88" height="0.9" fill="#bdbdbd"/>
<rect x="155.54" y="485.43" width="5.70" height="0.9" fill="#bdbdbd"/>
<rect x="155.63" y="487.23" width="5.53" height="0.9" fill="#bdbdbd"/>
<rect x="155.72" y="489.03" width="5.35" height="0.9" fill="#bdbdbd"/>
<rect x="275.75" y="495" width="7.5" height="6.08" fill="#8a8a8a"/>
<rect x="275.75" y="501.75" width="7.50" height="0.9" fill="#bdbdbd"/>
<rect x="275.84" y="503.55" width="7.33" height="0.9" fill="#bdbdbd"/>
<rect x="275.93" y="505.35" width="7.15" height="0.9" fill="#bdbdbd"/>
<rect x="276.02" y="507.15" width="6.97" height="0.9" fill="#bdbdbd"/>
<rect x="276.11" y="508.95" width="6.80" height="0.9" fill="#bdbdbd"/>
<rect x="276.20" y="510.75" width="6.62" height="0.9" fill="#bdbdbd"/>
<rect x="276.29" y="512.55" width="6.45" height="0.9" fill="#bdbdbd"/>
<rect x="276.38" y="514.35" width="6.28" height="0.9" fill="#bdbdbd"/>
<rect x="276.47" y="516.15" width="6.10" height="0.9" fill="#bdbdbd"/>
<rect x="175.52" y="585" width="6.48" height="7" fill="#8a8a8a"/>
<rect x="173.90" y="585.50" width="0.9" height="6.50" fill="#bdbdbd" transform="skewX(-20)" transform-origin="173.9 592"/>
<rect x="172.10" y="585.50" width="0.9" height="6.50" fill="#bdbdbd" transform="skewX(-20)" transform-origin="172.1 592"/>
<rect x="170.30" y="585.50" width="0.9" height="6.50" fill="#bdbdbd" transform="skewX(-20)" transform-origin="170.29999999999998 592"/>
<rect x="168.50" y="585.50" width="0.9" height="6.50" fill="#bdbdbd" transform="skewX(-20)" transform-origin="168.49999999999997 592"/>
<rect x="166.70" y="585.50" width="0.9" height="6.50" fill="#bdbdbd" transform="skewX(-20)" transform-origin="166.69999999999996 592"/>
<rect x="164.90" y="585.50" width="0.9" height="6.50" fill="#bdbdbd" transform="skewX(-20)" transform-origin="164.89999999999995 592"/>
<rect x="163.10" y="585.50" width="0.9" height="6.50" fill="#bdbdbd" transform="skewX(-20)" transform-origin="163.09999999999994 592"/>
<rect x="161.30" y="585.50" width="0.9" height="6.50" fill="#bdbdbd" transform="skewX(-20)" transform-origin="161.29999999999993 592"/>
<rect x="159.50" y="585.50" width="0.9" height="6.50" fill="#bdbdbd" transform="skewX(-20)" transform-origin="159.49999999999991 592"/>
<rect x="267" y="584.5" width="6.55" height="7.5" fill="#8a8a8a"/>
<rect x="274.27" y="585.00" width="0.9" height="7.00" fill="#bdbdbd" transform="skewX(20)" transform-origin="274.275 592"/>
<rect x="276.07" y="585.00" width="0.9" height="7.00" fill="#bdbdbd" transform="skewX(20)" transform-origin="276.075 592"/>
<rect x="277.88" y="585.00" width="0.9" height="7.00" fill="#bdbdbd" transform="skewX(20)" transform-origin="277.875 592"/>
<rect x="279.68" y="585.00" width="0.9" height="7.00" fill="#bdbdbd" transform="skewX(20)" transform-origin="279.675 592"/>
<rect x="281.48" y="585.00" width="0.9" height="7.00" fill="#bdbdbd" transform="skewX(20)" transform-origin="281.475 592"/>
<rect x="283.28" y="585.00" width="0.9" height="7.00" fill="#bdbdbd" transform="skewX(20)" transform-origin="283.27500000000003 592"/>
<rect x="285.08" y="585.00" width="0.9" height="7.00" fill="#bdbdbd" transform="skewX(20)" transform-origin="285.07500000000005 592"/>
<rect x="286.88" y="585.00" width="0.9" height="7.00" fill="#bdbdbd" transform="skewX(20)" transform-origin="286.87500000000006 592"/>
<rect x="288.68" y="585.00" width="0.9" height="7.00" fill="#bdbdbd" transform="skewX(20)" transform-origin="288.67500000000007 592"/>
<path d="M298 94.5 L231.5 94.5" fill="none" stroke="#1e1e1e" stroke-width="1.0"/>
<path d="M470 203.5 L325.5 203.5 L325.5 228.5" fill="none" stroke="#1e1e1e" stroke-width="1.0"/>
<path d="M470 249.5 L384 249.5" fill="none" stroke="#1e1e1e" stroke-width="1.0"/>
<path d="M470 293.5 L349.5 293.5 L349.5 256" fill="none" stroke="#1e1e1e" stroke-width="1.0"/>
<path d="M470 336.5 L362 336.5" fill="none" stroke="#1e1e1e" stroke-width="1.0"/>
<path d="M470 375.5 L352.5 375.5 L352.5 351.2" fill="none" stroke="#1e1e1e" stroke-width="1.0"/>
<path d="M470 453.5 L369 453.5" fill="none" stroke="#1e1e1e" stroke-width="1.0"/>
<path d="M417 512.5 L377.5 512.5 L365 497.5" fill="none" stroke="#1e1e1e" stroke-width="1.0"/>
<path d="M505.5 564.5 L387.5 564.5 L354.5 532.3" fill="none" stroke="#1e1e1e" stroke-width="1.0"/>
<path d="M470 631.5 L393.5 631.5" fill="none" stroke="#1e1e1e" stroke-width="1.0"/>
<path d="M468.5 717.5 L332 717.5" fill="none" stroke="#1e1e1e" stroke-width="1.0"/>
<path d="M620 107.5 L579 107.5" fill="none" stroke="#1e1e1e" stroke-width="1.0"/>
<path d="M619.5 187.5 L602.5 187.5 L573 157.5" fill="none" stroke="#1e1e1e" stroke-width="1.0"/>
<path d="M620 265.5 L597.5 265.5 L564 191.5" fill="none" stroke="#1e1e1e" stroke-width="1.0"/>
<path d="M181.5 276.5 L298 276.5" fill="none" stroke="#1e1e1e" stroke-width="1.0"/>
<path d="M181.5 337.5 L340.6 337.5" fill="none" stroke="#1e1e1e" stroke-width="1.0"/>
<path d="M140.5 403 L140.5 437.5 L357.5 437.5" fill="none" stroke="#1e1e1e" stroke-width="1.0"/>
<path d="M173.5 476.5 L173.5 456.5 L346.3 456.5" fill="none" stroke="#1e1e1e" stroke-width="1.0"/>
<path d="M173.5 611.5 L173.5 649.5 L346.5 649.5" fill="none" stroke="#1e1e1e" stroke-width="1.0"/>
<path d="M218 679.5 L374 679.5" fill="none" stroke="#1e1e1e" stroke-width="1.0"/>
<ellipse cx="305.75" cy="94.1" rx="8.5" ry="8.5" fill="#111"/>
<text x="305.75" y="98.40" font-size="12" font-weight="700" fill="#fff" text-anchor="middle">1</text>
<ellipse cx="478.4" cy="203.8" rx="7.9" ry="7.9" fill="#fff" stroke="#222" stroke-width="1"/>
<text x="478.4" y="208.10" font-size="12" font-weight="700" fill="#111" text-anchor="middle" textLength="10.8" lengthAdjust="spacingAndGlyphs">15</text>
<ellipse cx="478.5" cy="249.2" rx="8.5" ry="8.5" fill="#111"/>
<text x="478.5" y="253.50" font-size="12" font-weight="700" fill="#fff" text-anchor="middle">3</text>
<ellipse cx="478.6" cy="294.2" rx="8.5" ry="8.5" fill="#111"/>
<text x="478.6" y="298.50" font-size="12" font-weight="700" fill="#fff" text-anchor="middle">3</text>
<ellipse cx="478.6" cy="336.9" rx="8.5" ry="8.5" fill="#111"/>
<text x="478.6" y="341.20" font-size="12" font-weight="700" fill="#fff" text-anchor="middle">4</text>
<ellipse cx="478.6" cy="375.9" rx="7.9" ry="7.9" fill="#fff" stroke="#222" stroke-width="1"/>
<text x="478.6" y="380.20" font-size="12" font-weight="700" fill="#111" text-anchor="middle" textLength="10.8" lengthAdjust="spacingAndGlyphs">11</text>
<ellipse cx="477.7" cy="453.6" rx="8.5" ry="8.5" fill="#111"/>
<text x="477.7" y="457.90" font-size="12" font-weight="700" fill="#fff" text-anchor="middle">7</text>
<ellipse cx="584.1" cy="453.6" rx="8.5" ry="8.5" fill="#111"/>
<text x="584.1" y="457.90" font-size="12" font-weight="700" fill="#fff" text-anchor="middle">6</text>
<path d="M580.5 459.70000000000005H587.7" stroke="#fff" stroke-width="0.8"/>
<ellipse cx="424.8" cy="512.8" rx="8.5" ry="8.5" fill="#111"/>
<text x="424.8" y="517.10" font-size="12" font-weight="700" fill="#fff" text-anchor="middle" textLength="10.8" lengthAdjust="spacingAndGlyphs">23</text>
<ellipse cx="513.4" cy="564.5" rx="7.9" ry="7.9" fill="#fff" stroke="#222" stroke-width="1"/>
<text x="513.4" y="568.80" font-size="12" font-weight="700" fill="#111" text-anchor="middle" textLength="10.8" lengthAdjust="spacingAndGlyphs">14</text>
<ellipse cx="477.8" cy="631.3" rx="8.5" ry="8.5" fill="#111"/>
<text x="477.8" y="635.60" font-size="12" font-weight="700" fill="#fff" text-anchor="middle">9</text>
<path d="M474.2 637.4H481.40000000000003" stroke="#fff" stroke-width="0.8"/>
<ellipse cx="584.1" cy="631.3" rx="8.5" ry="8.5" fill="#111"/>
<text x="584.1" y="635.60" font-size="12" font-weight="700" fill="#fff" text-anchor="middle">8</text>
<ellipse cx="477.3" cy="717.5" rx="8.6" ry="7.9" fill="#fff" stroke="#222" stroke-width="1"/>
<text x="477.3" y="721.80" font-size="12" font-weight="700" fill="#111" text-anchor="middle" textLength="12.4" lengthAdjust="spacingAndGlyphs">42</text>
<ellipse cx="584.2" cy="717.5" rx="8.6" ry="7.9" fill="#fff" stroke="#222" stroke-width="1"/>
<text x="584.2" y="721.80" font-size="12" font-weight="700" fill="#111" text-anchor="middle" textLength="12.4" lengthAdjust="spacingAndGlyphs">43</text>
<ellipse cx="627.8" cy="107.2" rx="8.5" ry="8.5" fill="#111"/>
<text x="627.8" y="111.50" font-size="12" font-weight="700" fill="#fff" text-anchor="middle">5</text>
<ellipse cx="627.3" cy="187.5" rx="8.5" ry="8.5" fill="#111"/>
<text x="627.3" y="191.80" font-size="12" font-weight="700" fill="#fff" text-anchor="middle" textLength="10.8" lengthAdjust="spacingAndGlyphs">22</text>
<ellipse cx="627.3" cy="265.3" rx="7.9" ry="7.9" fill="#fff" stroke="#222" stroke-width="1"/>
<text x="627.3" y="269.60" font-size="12" font-weight="700" fill="#111" text-anchor="middle" textLength="10.8" lengthAdjust="spacingAndGlyphs">39</text>
<ellipse cx="173.25" cy="276.75" rx="7.9" ry="7.9" fill="#fff" stroke="#222" stroke-width="1"/>
<text x="173.25" y="281.05" font-size="12" font-weight="700" fill="#111" text-anchor="middle">6</text>
<path d="M169.65 282.85H176.85" stroke="#111" stroke-width="0.8"/>
<ellipse cx="260" cy="293.75" rx="7.9" ry="7.9" fill="#fff" stroke="#222" stroke-width="1"/>
<text x="260" y="298.05" font-size="12" font-weight="700" fill="#111" text-anchor="middle">7</text>
<ellipse cx="173.25" cy="337.5" rx="8.5" ry="8.5" fill="#111"/>
<text x="173.25" y="341.80" font-size="12" font-weight="700" fill="#fff" text-anchor="middle">4</text>
<ellipse cx="141" cy="395.2" rx="7.9" ry="7.9" fill="#fff" stroke="#222" stroke-width="1"/>
<text x="141" y="399.50" font-size="12" font-weight="700" fill="#111" text-anchor="middle">9</text>
<path d="M137.4 401.3H144.6" stroke="#111" stroke-width="0.8"/>
<ellipse cx="248.3" cy="395.2" rx="7.9" ry="7.9" fill="#fff" stroke="#222" stroke-width="1"/>
<text x="248.3" y="399.50" font-size="12" font-weight="700" fill="#111" text-anchor="middle">8</text>
<ellipse cx="173.5" cy="484.5" rx="7.9" ry="7.9" fill="#fff" stroke="#222" stroke-width="1"/>
<text x="173.5" y="488.80" font-size="12" font-weight="700" fill="#111" text-anchor="middle">8</text>
<ellipse cx="280" cy="484.5" rx="7.9" ry="7.9" fill="#fff" stroke="#222" stroke-width="1"/>
<text x="280" y="488.80" font-size="12" font-weight="700" fill="#111" text-anchor="middle">9</text>
<path d="M276.4 490.6H283.6" stroke="#111" stroke-width="0.8"/>
<ellipse cx="173.5" cy="604" rx="7.9" ry="7.9" fill="#fff" stroke="#222" stroke-width="1"/>
<text x="173.5" y="608.30" font-size="12" font-weight="700" fill="#111" text-anchor="middle">8</text>
<ellipse cx="280" cy="604" rx="7.9" ry="7.9" fill="#fff" stroke="#222" stroke-width="1"/>
<text x="280" y="608.30" font-size="12" font-weight="700" fill="#111" text-anchor="middle">9</text>
<path d="M276.4 610.1H283.6" stroke="#111" stroke-width="0.8"/>
<ellipse cx="210.6" cy="679.4" rx="8.5" ry="8.5" fill="#111"/>
<text x="210.6" y="683.70" font-size="12" font-weight="700" fill="#fff" text-anchor="middle" textLength="10.8" lengthAdjust="spacingAndGlyphs">24</text>
<text class="jp" x="317.77" y="91.36">両側</text>
<text class="jp" x="490.42" y="200.76">両側</text>
<text class="jp" x="490.42" y="246.06">両側</text>
<text class="jp" x="490.42" y="291.36">両側</text>
<text class="jp" x="490.42" y="334.06">両側</text>
<text class="jp" x="490.42" y="373.56">両側</text>
<text class="jp" x="505.35" y="450.86">反対側は</text>
<text class="jp" x="505.17" y="477.86">両脚</text>
<text class="jp" x="437.17" y="509.36">両側</text>
<text class="jp" x="437.17" y="535.36">両脚</text>
<text class="jp" x="525.42" y="562.11">両側</text>
<text class="jp" x="525.42" y="588.36">両脚</text>
<text class="jp" x="504.65" y="627.76">反対側は</text>
<text class="jp" x="504.87" y="654.86">両脚</text>
<text class="jp" x="504.65" y="714.76">反対側は</text>
<text class="jp" x="504.87" y="741.76">両脚</text>
<text class="jp" x="639.67" y="104.46">両側</text>
<text class="jp" x="639.67" y="130.76">両腕</text>
<text class="jp" x="639.67" y="184.46">両側</text>
<text class="jp" x="639.67" y="211.36">両腕</text>
<text class="jp" x="639.67" y="262.96">両側</text>
<text class="jp" x="639.67" y="289.61">両腕</text>
<text class="jp" x="183.20" y="310.86">反対側は</text>
<text class="jp" x="165.17" y="359.11">両側</text>
<text class="jp" x="167.45" y="392.26">反対側は</text>
<text class="jp" x="167.67" y="420.26">両脚</text>
<text class="jp" x="200.45" y="480.86">反対側は</text>
<text class="jp" x="200.67" y="507.26">両脚</text>
<text class="jp" x="200.45" y="600.46">反対側は</text>
<text class="jp" x="200.67" y="627.26">両脚</text>
<text class="jp" x="202.57" y="700.26">両側</text>
<text class="jp" x="202.57" y="727.06">両脚</text>
<text x="317.40" y="103.10" font-size="10.25" fill="#2a2a2a">Both sides</text>
<text x="490.05" y="212.30" font-size="10.25" fill="#2a2a2a">Both sides</text>
<text x="490.05" y="258.00" font-size="10.25" fill="#2a2a2a">Both sides</text>
<text x="490.05" y="303.30" font-size="10.25" fill="#2a2a2a">Both sides</text>
<text x="490.05" y="345.70" font-size="10.25" fill="#2a2a2a">Both sides</text>
<text x="489.80" y="385.50" font-size="10.25" fill="#2a2a2a">Both sides</text>
<text x="489.40" y="462.50" font-size="10.25" fill="#2a2a2a">For the other side,</text>
<text x="504.30" y="488.75" font-size="10.25" fill="#2a2a2a">Both legs</text>
<text x="436.80" y="520.75" font-size="10.25" fill="#2a2a2a">Both sides</text>
<text x="436.80" y="547.00" font-size="10.25" fill="#2a2a2a">Both legs</text>
<text x="525.05" y="573.25" font-size="10.25" fill="#2a2a2a">Both sides</text>
<text x="525.05" y="599.50" font-size="10.25" fill="#2a2a2a">Both legs</text>
<text x="488.70" y="639.40" font-size="10.25" fill="#2a2a2a">For the other side,</text>
<text x="504.50" y="666.20" font-size="10.25" fill="#2a2a2a">Both legs</text>
<text x="488.30" y="726.40" font-size="10.25" fill="#2a2a2a">For the other side,</text>
<text x="504.50" y="752.70" font-size="10.25" fill="#2a2a2a">Both legs</text>
<text x="639.30" y="116.25" font-size="10.25" fill="#2a2a2a">Both sides</text>
<text x="639.30" y="142.10" font-size="10.25" fill="#2a2a2a">Both arms</text>
<text x="639.30" y="195.75" font-size="10.25" fill="#2a2a2a">Both sides</text>
<text x="639.30" y="222.25" font-size="10.25" fill="#2a2a2a">Both arms</text>
<text x="639.30" y="274.25" font-size="10.25" fill="#2a2a2a">Both sides</text>
<text x="639.30" y="300.50" font-size="10.25" fill="#2a2a2a">Both arms</text>
<text x="164.80" y="297.00" font-size="10.25" fill="#2a2a2a">For the other side,</text>
<text x="164.90" y="371.20" font-size="10.25" fill="#2a2a2a">Both sides</text>
<text x="151.90" y="404.00" font-size="10.25" fill="#2a2a2a">For the other side,</text>
<text x="167.30" y="430.00" font-size="10.25" fill="#2a2a2a">Both legs</text>
<text x="184.30" y="493.00" font-size="10.25" fill="#2a2a2a">For the other side,</text>
<text x="200.30" y="518.00" font-size="10.25" fill="#2a2a2a">Both legs</text>
<text x="184.30" y="612.40" font-size="10.25" fill="#2a2a2a">For the other side,</text>
<text x="200.30" y="638.00" font-size="10.25" fill="#2a2a2a">Both legs</text>
<text x="202.20" y="712.40" font-size="10.25" fill="#2a2a2a">Both sides</text>
<text x="202.20" y="738.20" font-size="10.25" fill="#2a2a2a">Both legs</text>
</svg>
</body></html>
